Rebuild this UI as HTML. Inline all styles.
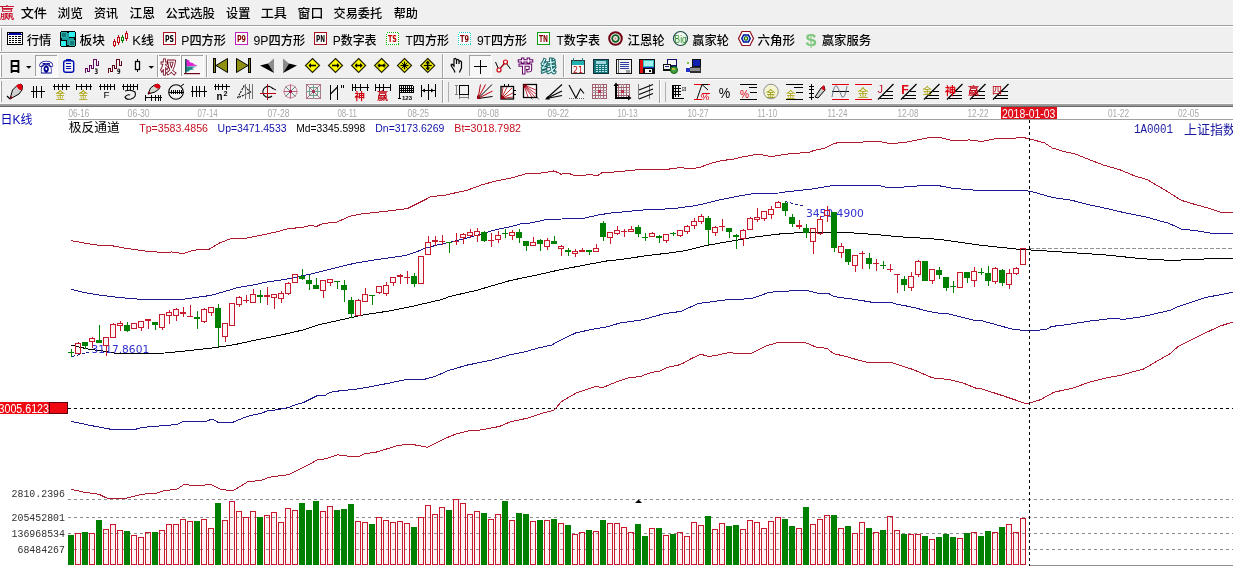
<!DOCTYPE html>
<html><head><meta charset="utf-8"><title>chart</title><style>
html,body{margin:0;padding:0;background:#fff;}
body{width:1233px;height:566px;overflow:hidden;}
svg{display:block;}
</style></head><body>
<svg width="1233" height="566" viewBox="0 0 1233 566">
<rect x="0" y="0" width="1233" height="566" fill="#ffffff"/>
<rect x="0" y="0" width="1233" height="25" fill="#f0f0f0"/>
<rect x="0" y="25" width="1233" height="1" fill="#a0a0a0"/>
<rect x="0" y="26" width="1233" height="1" fill="#ffffff"/>
<rect x="0" y="27" width="1233" height="25" fill="#f0f0f0"/>
<rect x="0" y="52" width="1233" height="1" fill="#a0a0a0"/>
<rect x="0" y="53" width="1233" height="1" fill="#ffffff"/>
<rect x="0" y="54" width="1233" height="24" fill="#f0f0f0"/>
<rect x="0" y="78" width="1233" height="1" fill="#a0a0a0"/>
<rect x="0" y="79" width="1233" height="1" fill="#ffffff"/>
<rect x="0" y="80" width="1233" height="23" fill="#f0f0f0"/>
<rect x="0" y="103" width="1233" height="1" fill="#f8f8f8"/>
<rect x="0" y="104" width="1233" height="1" fill="#a0a0a0"/>
<rect x="0" y="105" width="1233" height="1" fill="#9a9a9a"/>
<rect x="0" y="106" width="1233" height="1" fill="#6a6a6a"/>
<rect x="1" y="28" width="1" height="23" fill="#a0a0a0"/>
<rect x="0" y="28" width="1" height="23" fill="#ffffff"/>
<rect x="1" y="55" width="1" height="22" fill="#a0a0a0"/>
<rect x="0" y="55" width="1" height="22" fill="#ffffff"/>
<rect x="1" y="81" width="1" height="21" fill="#a0a0a0"/>
<rect x="0" y="81" width="1" height="21" fill="#ffffff"/>
<text x="-0.5" y="18.3" font-size="14.5" fill="#c8102e" font-family='"Liberation Sans","Noto Sans CJK SC",sans-serif' textLength="15" lengthAdjust="spacingAndGlyphs" font-weight="500">赢</text>
<text x="20.7" y="17.8" font-size="12.5" fill="#000" font-family='"Liberation Sans","Noto Sans CJK SC",sans-serif' textLength="26.3" lengthAdjust="spacingAndGlyphs" font-weight="500">文件</text>
<text x="57.5" y="17.8" font-size="12.5" fill="#000" font-family='"Liberation Sans","Noto Sans CJK SC",sans-serif' textLength="25.5" lengthAdjust="spacingAndGlyphs" font-weight="500">浏览</text>
<text x="93.9" y="17.8" font-size="12.5" fill="#000" font-family='"Liberation Sans","Noto Sans CJK SC",sans-serif' textLength="24.1" lengthAdjust="spacingAndGlyphs" font-weight="500">资讯</text>
<text x="129.5" y="17.8" font-size="12.5" fill="#000" font-family='"Liberation Sans","Noto Sans CJK SC",sans-serif' textLength="25.5" lengthAdjust="spacingAndGlyphs" font-weight="500">江恩</text>
<text x="165.5" y="17.8" font-size="12.5" fill="#000" font-family='"Liberation Sans","Noto Sans CJK SC",sans-serif' textLength="49.5" lengthAdjust="spacingAndGlyphs" font-weight="500">公式选股</text>
<text x="226.1" y="17.8" font-size="12.5" fill="#000" font-family='"Liberation Sans","Noto Sans CJK SC",sans-serif' textLength="24.3" lengthAdjust="spacingAndGlyphs" font-weight="500">设置</text>
<text x="260.7" y="17.8" font-size="12.5" fill="#000" font-family='"Liberation Sans","Noto Sans CJK SC",sans-serif' textLength="26.3" lengthAdjust="spacingAndGlyphs" font-weight="500">工具</text>
<text x="297.5" y="17.8" font-size="12.5" fill="#000" font-family='"Liberation Sans","Noto Sans CJK SC",sans-serif' textLength="25.9" lengthAdjust="spacingAndGlyphs" font-weight="500">窗口</text>
<text x="333.5" y="17.8" font-size="12.5" fill="#000" font-family='"Liberation Sans","Noto Sans CJK SC",sans-serif' textLength="48.7" lengthAdjust="spacingAndGlyphs" font-weight="500">交易委托</text>
<text x="393.7" y="17.8" font-size="12.5" fill="#000" font-family='"Liberation Sans","Noto Sans CJK SC",sans-serif' textLength="24.3" lengthAdjust="spacingAndGlyphs" font-weight="500">帮助</text>
<text x="26.7" y="45" font-size="12.5" fill="#000" font-family='"Liberation Sans","Noto Sans CJK SC",sans-serif' textLength="24.7" lengthAdjust="spacingAndGlyphs" font-weight="500">行情</text>
<text x="79.5" y="45" font-size="12.5" fill="#000" font-family='"Liberation Sans","Noto Sans CJK SC",sans-serif' textLength="25.5" lengthAdjust="spacingAndGlyphs" font-weight="500">板块</text>
<text x="132.3" y="45" font-size="12.5" fill="#000" font-family='"Liberation Sans","Noto Sans CJK SC",sans-serif' textLength="21.7" lengthAdjust="spacingAndGlyphs" font-weight="500">K线</text>
<text x="181.3" y="45" font-size="12.5" fill="#000" font-family='"Liberation Sans","Noto Sans CJK SC",sans-serif' textLength="44.7" lengthAdjust="spacingAndGlyphs" font-weight="500">P四方形</text>
<text x="253.5" y="45" font-size="12.5" fill="#000" font-family='"Liberation Sans","Noto Sans CJK SC",sans-serif' textLength="51.7" lengthAdjust="spacingAndGlyphs" font-weight="500">9P四方形</text>
<text x="332.7" y="45" font-size="12.5" fill="#000" font-family='"Liberation Sans","Noto Sans CJK SC",sans-serif' textLength="43.9" lengthAdjust="spacingAndGlyphs" font-weight="500">P数字表</text>
<text x="405.5" y="45" font-size="12.5" fill="#000" font-family='"Liberation Sans","Noto Sans CJK SC",sans-serif' textLength="43.5" lengthAdjust="spacingAndGlyphs" font-weight="500">T四方形</text>
<text x="476.9" y="45" font-size="12.5" fill="#000" font-family='"Liberation Sans","Noto Sans CJK SC",sans-serif' textLength="50.1" lengthAdjust="spacingAndGlyphs" font-weight="500">9T四方形</text>
<text x="556.5" y="45" font-size="12.5" fill="#000" font-family='"Liberation Sans","Noto Sans CJK SC",sans-serif' textLength="43.5" lengthAdjust="spacingAndGlyphs" font-weight="500">T数字表</text>
<text x="627.5" y="45" font-size="12.5" fill="#000" font-family='"Liberation Sans","Noto Sans CJK SC",sans-serif' textLength="37.3" lengthAdjust="spacingAndGlyphs" font-weight="500">江恩轮</text>
<text x="692.3" y="45" font-size="12.5" fill="#000" font-family='"Liberation Sans","Noto Sans CJK SC",sans-serif' textLength="36.7" lengthAdjust="spacingAndGlyphs" font-weight="500">赢家轮</text>
<text x="757.5" y="45" font-size="12.5" fill="#000" font-family='"Liberation Sans","Noto Sans CJK SC",sans-serif' textLength="37.7" lengthAdjust="spacingAndGlyphs" font-weight="500">六角形</text>
<text x="821.7" y="45" font-size="12.5" fill="#000" font-family='"Liberation Sans","Noto Sans CJK SC",sans-serif' textLength="49.5" lengthAdjust="spacingAndGlyphs" font-weight="500">赢家服务</text>
<rect x="35" y="55" width="23" height="22" fill="#f7f7f7"/>
<rect x="35" y="55" width="23" height="1" fill="#a0a0a0"/>
<rect x="35" y="55" width="1" height="22" fill="#a0a0a0"/>
<rect x="35" y="76" width="23" height="1" fill="#ffffff"/>
<rect x="57" y="55" width="1" height="22" fill="#ffffff"/>
<rect x="158" y="55" width="23" height="22" fill="#f7f7f7"/>
<rect x="158" y="55" width="23" height="1" fill="#a0a0a0"/>
<rect x="158" y="55" width="1" height="22" fill="#a0a0a0"/>
<rect x="158" y="76" width="23" height="1" fill="#ffffff"/>
<rect x="180" y="55" width="1" height="22" fill="#ffffff"/>
<rect x="181" y="55" width="23" height="22" fill="#f7f7f7"/>
<rect x="181" y="55" width="23" height="1" fill="#a0a0a0"/>
<rect x="181" y="55" width="1" height="22" fill="#a0a0a0"/>
<rect x="181" y="76" width="23" height="1" fill="#ffffff"/>
<rect x="203" y="55" width="1" height="22" fill="#ffffff"/>
<rect x="469" y="55" width="23" height="22" fill="#f7f7f7"/>
<rect x="469" y="55" width="23" height="1" fill="#a0a0a0"/>
<rect x="469" y="55" width="1" height="22" fill="#a0a0a0"/>
<rect x="469" y="76" width="23" height="1" fill="#ffffff"/>
<rect x="491" y="55" width="1" height="22" fill="#ffffff"/>
<rect x="157" y="55" width="1" height="22" fill="#a0a0a0"/>
<rect x="158" y="55" width="1" height="22" fill="#ffffff"/>
<rect x="206" y="55" width="1" height="22" fill="#a0a0a0"/>
<rect x="207" y="55" width="1" height="22" fill="#ffffff"/>
<rect x="563" y="55" width="1" height="22" fill="#a0a0a0"/>
<rect x="564" y="55" width="1" height="22" fill="#ffffff"/>
<rect x="442" y="54" width="1" height="24" fill="#a0a0a0"/>
<rect x="443" y="54" width="1" height="24" fill="#ffffff"/>
<rect x="442" y="80" width="1" height="23" fill="#a0a0a0"/>
<rect x="443" y="80" width="1" height="23" fill="#ffffff"/>
<rect x="659" y="80" width="1" height="23" fill="#a0a0a0"/>
<rect x="660" y="80" width="1" height="23" fill="#ffffff"/>
<rect x="448" y="82" width="1" height="20" fill="#b0b0b0"/>
<rect x="665" y="82" width="1" height="20" fill="#b0b0b0"/>
<g shape-rendering="crispEdges">
<rect x="7" y="32" width="16" height="13" fill="#000"/>
<rect x="8" y="33" width="14" height="11" fill="#fff"/>
<rect x="8" y="33" width="14" height="2" fill="#0000a8"/>
<rect x="8" y="33" width="1" height="1" fill="#fff"/>
<rect x="21" y="33" width="1" height="1" fill="#fff"/>
<rect x="9" y="36" width="2" height="1" fill="#000"/>
<rect x="12" y="36" width="2" height="1" fill="#000"/>
<rect x="15" y="36" width="2" height="1" fill="#000"/>
<rect x="18" y="36" width="3" height="1" fill="#000"/>
<rect x="9" y="38" width="2" height="1" fill="#000"/>
<rect x="12" y="38" width="2" height="1" fill="#000"/>
<rect x="15" y="38" width="2" height="1" fill="#000"/>
<rect x="18" y="38" width="3" height="1" fill="#000"/>
<rect x="9" y="40" width="2" height="1" fill="#000"/>
<rect x="12" y="40" width="2" height="1" fill="#000"/>
<rect x="15" y="40" width="2" height="1" fill="#000"/>
<rect x="18" y="40" width="3" height="1" fill="#000"/>
<rect x="9" y="42" width="2" height="1" fill="#000"/>
<rect x="12" y="42" width="2" height="1" fill="#000"/>
<rect x="15" y="42" width="2" height="1" fill="#000"/>
<rect x="18" y="42" width="3" height="1" fill="#000"/>
<rect x="60" y="31" width="16" height="16" fill="#000"/>
<rect x="61" y="32" width="6" height="6" fill="#30b0b0"/>
<rect x="62" y="33" width="4" height="4" fill="#137a76"/>
<rect x="69" y="32" width="6" height="5" fill="#30f0f0"/>
<rect x="61" y="41" width="5" height="5" fill="#30f0f0"/>
<rect x="69" y="40" width="6" height="6" fill="#30b0b0"/>
<rect x="70" y="41" width="4" height="4" fill="#137a76"/>
<rect x="67" y="33" width="2" height="12" fill="#1c9c9c"/>
<rect x="62" y="38" width="12" height="2" fill="#1c9c9c"/>
<rect x="60" y="31" width="1" height="1" fill="#f0f0f0"/>
<rect x="75" y="31" width="1" height="1" fill="#f0f0f0"/>
<rect x="60" y="46" width="1" height="1" fill="#f0f0f0"/>
<rect x="75" y="46" width="1" height="1" fill="#f0f0f0"/>
<rect x="114" y="39" width="1" height="2" fill="#c00010"/>
<rect x="114" y="46" width="1" height="1" fill="#c00010"/>
<rect x="113.5" y="41.5" width="2" height="4" fill="none" stroke="#c00010" stroke-width="1"/>
<rect x="118" y="35" width="1" height="2" fill="#c00010"/>
<rect x="118" y="43" width="1" height="2" fill="#c00010"/>
<rect x="117.5" y="37.5" width="2" height="5" fill="none" stroke="#c00010" stroke-width="1"/>
<rect x="122" y="35" width="1" height="2" fill="#008000"/>
<rect x="122" y="41" width="1" height="2" fill="#008000"/>
<rect x="121.5" y="37.5" width="2" height="3" fill="none" stroke="#008000" stroke-width="1"/>
<rect x="126" y="31" width="1" height="2" fill="#c00010"/>
<rect x="126" y="39" width="1" height="2" fill="#c00010"/>
<rect x="125.5" y="33.5" width="2" height="5" fill="none" stroke="#c00010" stroke-width="1"/>
<rect x="163" y="32" width="13" height="13" fill="#fff"/>
<rect x="163.5" y="32.5" width="12" height="12" fill="none" stroke="#a81020" stroke-width="1"/>
<text x="165" y="42" font-size="8.6" fill="#000" font-weight="bold" font-family='"DejaVu Sans",sans-serif' textLength="9" lengthAdjust="spacingAndGlyphs">PS</text>
<rect x="235" y="32" width="13" height="13" fill="#fff"/>
<rect x="235.5" y="32.5" width="12" height="12" fill="none" stroke="#c020c0" stroke-width="1"/>
<text x="237" y="42" font-size="8.6" fill="#800000" font-weight="bold" font-family='"DejaVu Sans",sans-serif' textLength="9" lengthAdjust="spacingAndGlyphs">P9</text>
<rect x="314" y="32" width="13" height="13" fill="#fff"/>
<rect x="314.5" y="32.5" width="12" height="12" fill="none" stroke="#a81020" stroke-width="1"/>
<text x="316" y="42" font-size="8.6" fill="#000" font-weight="bold" font-family='"DejaVu Sans",sans-serif' textLength="9" lengthAdjust="spacingAndGlyphs">PN</text>
<rect x="386" y="32" width="13" height="13" fill="#fff"/>
<rect x="386.5" y="32.5" width="12" height="12" fill="none" stroke="#10b010" stroke-width="1" stroke-dasharray="1,1"/>
<text x="388" y="42" font-size="8.6" fill="#c00000" font-weight="bold" font-family='"DejaVu Sans",sans-serif' textLength="9" lengthAdjust="spacingAndGlyphs">TS</text>
<rect x="458" y="32" width="13" height="13" fill="#fff"/>
<rect x="458.5" y="32.5" width="12" height="12" fill="none" stroke="#20d0d0" stroke-width="1" stroke-dasharray="1,1"/>
<text x="460" y="42" font-size="8.6" fill="#800000" font-weight="bold" font-family='"DejaVu Sans",sans-serif' textLength="9" lengthAdjust="spacingAndGlyphs">T9</text>
<rect x="537" y="32" width="13" height="13" fill="#fff"/>
<rect x="537.5" y="32.5" width="12" height="12" fill="none" stroke="#10a010" stroke-width="1"/>
<text x="539" y="42" font-size="8.6" fill="#800000" font-weight="bold" font-family='"DejaVu Sans",sans-serif' textLength="9" lengthAdjust="spacingAndGlyphs">TN</text>
</g>
<circle cx="615.5" cy="38.5" r="6.3" fill="none" stroke="#700010" stroke-width="2"/>
<circle cx="615.5" cy="38.5" r="3.3" fill="none" stroke="#106020" stroke-width="1.8"/>
<circle cx="615.5" cy="38.5" r="1" fill="#c08080" stroke="#c08080" stroke-width="0"/>
<circle cx="680.5" cy="38.5" r="7" fill="#f0f8f0" stroke="#204848" stroke-width="1.2"/>
<text x="674.6" y="43.3" font-size="11" fill="#309030" font-family='"Liberation Sans",sans-serif' textLength="12" lengthAdjust="spacingAndGlyphs">Big</text>
<polygon points="738.5,38.5 742,31.5 750,31.5 753.5,38.5 750,45.5 742,45.5" fill="#fff" stroke="#901020" stroke-width="1.2"/>
<polygon points="741.8,38.5 743.6,35 748.4,35 750.2,38.5 748.4,42 743.6,42" fill="#c0f0ff" stroke="#0010a0" stroke-width="1.5"/>
<circle cx="746" cy="38.5" r="1.7" fill="#f0f070" stroke="#106020" stroke-width="1.1"/>
<text x="805.5" y="45.5" font-size="17" fill="#80c880" font-weight="bold" font-family='"Liberation Sans",sans-serif' textLength="11" lengthAdjust="spacingAndGlyphs">$</text>
<g shape-rendering="crispEdges">
</g>
<text x="9" y="71.3" font-size="13.5" fill="#000" font-weight="900" font-family='"Noto Sans CJK SC",sans-serif' textLength="12" lengthAdjust="spacingAndGlyphs">日</text>
<polygon points="26,66 31.5,66 28.75,68.8" fill="#000" stroke="none" stroke-width="1"/>
<polygon points="148.5,66 154,66 151.25,68.8" fill="#000" stroke="none" stroke-width="1"/>
<text x="38.8" y="73" font-size="16" fill="#ffffff" stroke="#000090" stroke-width="0.9" font-family='"DejaVu Sans",sans-serif' textLength="15" lengthAdjust="spacingAndGlyphs">&#9742;</text>
<rect x="63.7" y="60.7" width="10" height="11.6" rx="2" fill="none" stroke="#0010b0" stroke-width="1.4"/>
<rect x="66" y="59" width="5" height="2" fill="#0010b0"/>
<rect x="66" y="63" width="5" height="1" fill="#0010b0"/>
<rect x="66" y="66" width="5" height="1" fill="#0010b0"/>
<rect x="66" y="68" width="5" height="1" fill="#0010b0"/>
<g shape-rendering="crispEdges">
<rect x="85" y="68" width="1" height="5" fill="#600860"/>
<rect x="85" y="68" width="3" height="1" fill="#600860"/>
<rect x="87" y="68" width="1" height="4" fill="#600860"/>
<rect x="87" y="71" width="3" height="1" fill="#600860"/>
<rect x="89" y="65" width="1" height="7" fill="#600860"/>
<rect x="89" y="65" width="3" height="1" fill="#600860"/>
<rect x="91" y="65" width="1" height="4" fill="#600860"/>
<rect x="91" y="68" width="3" height="1" fill="#600860"/>
<rect x="93" y="59" width="1" height="10" fill="#600860"/>
<rect x="93" y="59" width="4" height="1" fill="#600860"/>
<rect x="96" y="59" width="1" height="7" fill="#600860"/>
<rect x="96" y="65" width="3" height="1" fill="#600860"/>
<rect x="98" y="61" width="1" height="5" fill="#600860"/>
</g>
<text x="94.4" y="73.8" font-size="7.5" fill="#000" font-weight="bold" font-family='"DejaVu Sans",sans-serif' textLength="3.6" lengthAdjust="spacingAndGlyphs">3</text>
<g shape-rendering="crispEdges">
<rect x="107.5" y="68" width="1" height="5" fill="#600818"/>
<rect x="107.5" y="68" width="3" height="1" fill="#600818"/>
<rect x="109.5" y="68" width="1" height="4" fill="#600818"/>
<rect x="109.5" y="71" width="3" height="1" fill="#600818"/>
<rect x="111.5" y="65" width="1" height="7" fill="#600818"/>
<rect x="111.5" y="65" width="3" height="1" fill="#600818"/>
<rect x="113.5" y="65" width="1" height="4" fill="#600818"/>
<rect x="113.5" y="68" width="3" height="1" fill="#600818"/>
<rect x="115.5" y="59" width="1" height="10" fill="#600818"/>
<rect x="115.5" y="59" width="4" height="1" fill="#600818"/>
<rect x="118.5" y="59" width="1" height="7" fill="#600818"/>
<rect x="118.5" y="65" width="3" height="1" fill="#600818"/>
<rect x="120.5" y="61" width="1" height="5" fill="#600818"/>
</g>
<text x="116.9" y="73.8" font-size="7.5" fill="#000" font-weight="bold" font-family='"DejaVu Sans",sans-serif' textLength="3.6" lengthAdjust="spacingAndGlyphs">9</text>
<rect x="137" y="59" width="1" height="13" fill="#000"/>
<rect x="135.5" y="61.5" width="4" height="8" fill="#fff" stroke="#000" stroke-width="1.3"/>
<text x="160.5" y="72.5" font-size="15.5" fill="#ffffff" stroke="#700018" stroke-width="0.8" font-weight="900" font-family='"Noto Sans CJK SC",sans-serif' textLength="16" lengthAdjust="spacingAndGlyphs">权</text>
<polygon points="186,59 190,61 189,62 194,63.5 193,64 198,65.5 186,66.5" fill="#e020d0" stroke="none" stroke-width="1"/>
<polygon points="186,66.5 197,66.5 192,68 194,69.5 189,70 190,71 186,72" fill="#208888" stroke="none" stroke-width="1"/>
<rect x="185" y="59" width="1.5" height="15" fill="#205050"/>
<rect x="184" y="73" width="16" height="1.2" fill="#700018"/>
<rect x="213" y="58" width="3" height="15" fill="#000"/>
<rect x="214" y="59" width="1" height="13" fill="#808020"/>
<polygon points="216,65.5 227.5,58.5 227.5,72.5" fill="#909010" stroke="#000" stroke-width="1"/>
<rect x="248" y="58" width="3" height="15" fill="#000"/>
<rect x="249" y="59" width="1" height="13" fill="#808020"/>
<polygon points="248,65.5 236.5,58.5 236.5,72.5" fill="#909010" stroke="#000" stroke-width="1"/>
<polygon points="260,65.5 274,58.5 268,63.5" fill="#f4f4f4" stroke="none" stroke-width="1"/>
<polygon points="274,58.5 274,73 268,63.5" fill="#8c8c8c" stroke="none" stroke-width="1"/>
<polygon points="260,65.5 268,63.5 274,73" fill="#000" stroke="none" stroke-width="1"/>
<polygon points="297,65.5 283,58.5 289,63.5" fill="#f4f4f4" stroke="none" stroke-width="1"/>
<polygon points="283,58.5 283,73 289,63.5" fill="#8c8c8c" stroke="none" stroke-width="1"/>
<polygon points="297,65.5 289,63.5 283,73" fill="#000" stroke="none" stroke-width="1"/>
<polygon points="312.5,58.5 319.5,65.5 312.5,72.5 305.5,65.5" fill="#ffff00" stroke="#202000" stroke-width="1.2"/>
<polyline points="316.0,65.5 309.0,65.5" fill="none" stroke="#000" stroke-width="1.6"/>
<polygon points="308.5,65.5 311.0,63.0 311.0,68.0" fill="#000" stroke="none" stroke-width="1"/>
<polygon points="335.5,58.5 342.5,65.5 335.5,72.5 328.5,65.5" fill="#ffff00" stroke="#202000" stroke-width="1.2"/>
<polyline points="332.0,65.5 339.0,65.5" fill="none" stroke="#000" stroke-width="1.6"/>
<polygon points="339.5,65.5 337.0,63.0 337.0,68.0" fill="#000" stroke="none" stroke-width="1"/>
<polygon points="358.6,58.5 365.6,65.5 358.6,72.5 351.6,65.5" fill="#ffff00" stroke="#202000" stroke-width="1.2"/>
<polyline points="355.1,65.5 362.1,65.5" fill="none" stroke="#000" stroke-width="1.6"/>
<polygon points="362.6,65.5 360.1,63.0 360.1,68.0" fill="#000" stroke="none" stroke-width="1"/>
<polygon points="354.6,65.5 357.1,63.0 357.1,68.0" fill="#000" stroke="none" stroke-width="1"/>
<polygon points="381.6,58.5 388.6,65.5 381.6,72.5 374.6,65.5" fill="#ffff00" stroke="#202000" stroke-width="1.2"/>
<polyline points="377.6,65.5 385.6,65.5" fill="none" stroke="#000" stroke-width="1.6"/>
<polygon points="381.1,65.5 378.6,63.0 378.6,68.0" fill="#000" stroke="none" stroke-width="1"/>
<polygon points="382.1,65.5 384.6,63.0 384.6,68.0" fill="#000" stroke="none" stroke-width="1"/>
<polygon points="404.5,58.5 411.5,65.5 404.5,72.5 397.5,65.5" fill="#ffff00" stroke="#202000" stroke-width="1.2"/>
<polyline points="400.5,65.5 408.5,65.5" fill="none" stroke="#000" stroke-width="1.4"/>
<polyline points="404.5,61.5 404.5,69.5" fill="none" stroke="#000" stroke-width="1.4"/>
<polyline points="401.5,62.5 407.5,68.5" fill="none" stroke="#000" stroke-width="1"/>
<polyline points="401.5,68.5 407.5,62.5" fill="none" stroke="#000" stroke-width="1"/>
<polygon points="427.7,58.5 434.7,65.5 427.7,72.5 420.7,65.5" fill="#ffff00" stroke="#202000" stroke-width="1.2"/>
<polyline points="423.7,65.5 431.7,65.5" fill="none" stroke="#000" stroke-width="1.4"/>
<polyline points="427.7,61.5 427.7,69.5" fill="none" stroke="#000" stroke-width="1.4"/>
<polygon points="425.2,63.5 430.2,63.5 427.7,60.5" fill="#000" stroke="none" stroke-width="1"/>
<polygon points="425.2,67.5 430.2,67.5 427.7,70.5" fill="#000" stroke="none" stroke-width="1"/>
<polyline points="452,67 451,65 452,64 454,66 454,59 455.5,58.5 456.5,59.5 456.5,64 456.5,60 458,59.5 459,60.5 459,64 459,61.5 460.5,61 461.5,62 461.5,68 460,71 459.5,72.5" fill="none" stroke="#000" stroke-width="1.2"/>
<polyline points="452,67 454,70 455,72.5" fill="none" stroke="#000" stroke-width="1.2"/>
<g shape-rendering="crispEdges">
<rect x="474" y="66" width="13" height="1" fill="#000"/>
<rect x="480" y="60" width="1" height="14" fill="#000"/>
</g>
<polyline points="495.5,62 499,70" fill="none" stroke="#000" stroke-width="1"/>
<polyline points="499,70 505.5,62" fill="none" stroke="#900010" stroke-width="1.2"/>
<polyline points="505.5,62 510.5,69" fill="none" stroke="#000" stroke-width="1"/>
<circle cx="499" cy="70" r="2" fill="#fff" stroke="#d00010" stroke-width="1.2"/>
<circle cx="505.5" cy="62" r="2" fill="#fff" stroke="#d00010" stroke-width="1.2"/>
<text x="517.5" y="71.5" font-size="16" fill="#fff4ff" stroke="#600060" stroke-width="1" font-weight="900" font-family='"Noto Sans CJK SC",sans-serif' textLength="16" lengthAdjust="spacingAndGlyphs">节</text>
<text x="540.5" y="71.5" font-size="16" fill="#d8ffff" stroke="#206868" stroke-width="1" font-weight="900" font-family='"Noto Sans CJK SC",sans-serif' textLength="16" lengthAdjust="spacingAndGlyphs">线</text>
<rect x="571" y="60" width="14" height="14" fill="#303030"/>
<rect x="572" y="61" width="12" height="4" fill="#20b0b0"/>
<rect x="572" y="65" width="12" height="8" fill="#f8f8f8"/>
<rect x="573" y="58" width="1" height="3" fill="#208080"/>
<rect x="582" y="58" width="1" height="3" fill="#208080"/>
<text x="573" y="72.5" font-size="8" fill="#c01010" font-weight="normal" font-family='"DejaVu Sans",sans-serif' textLength="10" lengthAdjust="spacingAndGlyphs">21</text>
<rect x="593" y="59" width="16" height="15" fill="#103040"/>
<rect x="594" y="60" width="14" height="13" fill="#187878"/>
<rect x="596" y="61" width="10" height="3" fill="#a0d8e0"/>
<rect x="596" y="65" width="2" height="1" fill="#c0e8f0"/>
<rect x="599" y="65" width="2" height="1" fill="#c0e8f0"/>
<rect x="602" y="65" width="2" height="1" fill="#c0e8f0"/>
<rect x="605" y="65" width="2" height="1" fill="#c0e8f0"/>
<rect x="596" y="67" width="2" height="1" fill="#c0e8f0"/>
<rect x="599" y="67" width="2" height="1" fill="#c0e8f0"/>
<rect x="602" y="67" width="2" height="1" fill="#c0e8f0"/>
<rect x="605" y="67" width="2" height="1" fill="#c0e8f0"/>
<rect x="596" y="69" width="2" height="1" fill="#c0e8f0"/>
<rect x="599" y="69" width="2" height="1" fill="#c0e8f0"/>
<rect x="602" y="69" width="2" height="1" fill="#c0e8f0"/>
<rect x="605" y="69" width="2" height="1" fill="#c0e8f0"/>
<rect x="596" y="71" width="2" height="1" fill="#c0e8f0"/>
<rect x="599" y="71" width="2" height="1" fill="#c0e8f0"/>
<rect x="602" y="71" width="2" height="1" fill="#c0e8f0"/>
<rect x="605" y="71" width="2" height="1" fill="#c0e8f0"/>
<rect x="616" y="59" width="16" height="15" fill="#101010"/>
<rect x="617" y="60" width="14" height="13" fill="#f4f4f4"/>
<rect x="618" y="60" width="1" height="13" fill="#606060"/>
<rect x="620" y="62" width="9" height="1" fill="#3040a0"/>
<rect x="620" y="64" width="9" height="1" fill="#3040a0"/>
<rect x="620" y="66" width="9" height="1" fill="#3040a0"/>
<rect x="620" y="68" width="9" height="1" fill="#3040a0"/>
<rect x="626" y="70" width="4" height="3" fill="#a0a0a0"/>
<rect x="639" y="59" width="16" height="15" fill="#101010"/>
<rect x="640" y="60" width="3" height="13" fill="#e01010"/>
<rect x="643" y="60" width="11" height="7" fill="#30c0c0"/>
<rect x="644" y="61" width="9" height="5" fill="#a8f0f0"/>
<rect x="643" y="67" width="11" height="1" fill="#2030c0"/>
<rect x="645" y="69" width="7" height="4" fill="#f8f8f8"/>
<rect x="649" y="70" width="2" height="2" fill="#101010"/>
<rect x="667" y="59" width="10" height="8" fill="#101060"/>
<rect x="668" y="60" width="8" height="5" fill="#f8f8f8"/>
<rect x="663" y="64" width="8" height="7" fill="#101010"/>
<rect x="664" y="65" width="6" height="4" fill="#f0f0f0"/>
<rect x="665" y="66" width="4" height="1" fill="#202080"/>
<circle cx="674" cy="70" r="3.5" fill="#40a040" stroke="#106010" stroke-width="1"/>
<rect x="672" y="68" width="3" height="2" fill="#c0c040"/>
<rect x="692" y="59" width="9" height="8" fill="#101010"/>
<rect x="693" y="60" width="7" height="6" fill="#1020b0"/>
<rect x="689" y="67" width="12" height="6" fill="#303030"/>
<rect x="690" y="68" width="10" height="3" fill="#909090"/>
<rect x="686" y="64" width="4" height="9" fill="#f8f8f8"/>
<rect x="686" y="68" width="4" height="4" fill="#2030c0"/>
<rect x="687" y="62" width="2" height="2" fill="#80c040"/>
<polygon points="10,99 12.5,90 17,85.5 21,84 22.5,86 22,90 19,94" fill="#d0d0d0" stroke="#000" stroke-width="1"/>
<polygon points="16,86 18.5,84 21.5,84 22.5,87 22,90 19.5,90" fill="#e00010" stroke="none" stroke-width="1"/>
<polyline points="7,96 10,99" fill="none" stroke="#000" stroke-width="1.2"/>
<polygon points="10,99.5 11,96 13,97.5" fill="#a00010" stroke="none" stroke-width="1"/>
<g shape-rendering="crispEdges">
<rect x="33" y="86" width="1" height="12" fill="#000"/>
<rect x="36" y="86" width="1" height="12" fill="#000"/>
<rect x="41" y="86" width="1" height="12" fill="#000"/>
<rect x="31" y="91" width="14" height="1" fill="#000"/>
</g>
<g shape-rendering="crispEdges">
<rect x="53" y="86" width="17" height="1" fill="#000"/>
<rect x="54" y="84" width="1" height="6" fill="#000"/>
<rect x="58" y="84" width="1" height="6" fill="#000"/>
<rect x="62" y="84" width="1" height="6" fill="#000"/>
<rect x="66" y="84" width="1" height="6" fill="#000"/>
</g>
<text x="55.5" y="98.5" font-size="10" fill="#a8a000" font-weight="normal" font-family='"Noto Sans CJK SC",sans-serif' textLength="9.5" lengthAdjust="spacingAndGlyphs">金</text>
<g shape-rendering="crispEdges">
<rect x="76" y="86" width="16" height="1" fill="#000"/>
<rect x="76" y="84" width="1" height="6" fill="#000"/>
<rect x="81" y="84" width="1" height="6" fill="#000"/>
<rect x="86" y="84" width="1" height="6" fill="#000"/>
<rect x="90" y="84" width="1" height="6" fill="#000"/>
</g>
<text x="78.6" y="98.5" font-size="10" fill="#a8a000" font-weight="normal" font-family='"Noto Sans CJK SC",sans-serif' textLength="9.5" lengthAdjust="spacingAndGlyphs">金</text>
<g shape-rendering="crispEdges">
<rect x="99" y="86" width="16" height="1" fill="#000"/>
<rect x="100" y="84" width="1" height="6" fill="#000"/>
<rect x="104" y="84" width="1" height="6" fill="#000"/>
<rect x="107" y="84" width="1" height="6" fill="#000"/>
<rect x="110" y="84" width="1" height="6" fill="#000"/>
<rect x="114" y="84" width="1" height="6" fill="#000"/>
</g>
<text x="103.5" y="98" font-size="9.5" fill="#000" font-weight="normal" font-family='"Liberation Sans","Noto Sans CJK SC",sans-serif' textLength="6" lengthAdjust="spacingAndGlyphs">F</text>
<g shape-rendering="crispEdges">
<rect x="122" y="86" width="16" height="1" fill="#000"/>
<rect x="123" y="84" width="1" height="6" fill="#000"/>
<rect x="127" y="84" width="1" height="6" fill="#000"/>
<rect x="130" y="84" width="1" height="6" fill="#000"/>
<rect x="133" y="84" width="1" height="6" fill="#000"/>
<rect x="137" y="84" width="1" height="6" fill="#000"/>
</g>
<path d="M125,91 Q131,89 135,92 Q137,97 131,99 Q126,100 125,97 Q127,94 130,95" fill="none" stroke="#000" stroke-width="1.1"/>
<polygon points="148,94 150.5,88 154.5,85 158,84 160,86 159.5,88.5 155,92" fill="#d0d8d0" stroke="#000" stroke-width="1"/>
<polygon points="153.5,86 156,84 159,84 160.5,86.5 159.5,88.5 157,88.5" fill="#e00010" stroke="none" stroke-width="1"/>
<polygon points="148,94.5 149,91.5 151,93" fill="#a00010" stroke="none" stroke-width="1"/>
<g shape-rendering="crispEdges">
<rect x="145" y="97" width="17" height="1" fill="#000"/>
<rect x="145" y="95" width="1" height="6" fill="#000"/>
<rect x="151" y="95" width="1" height="6" fill="#000"/>
<rect x="155" y="95" width="1" height="6" fill="#000"/>
<rect x="158" y="95" width="1" height="6" fill="#000"/>
<rect x="160" y="95" width="1" height="6" fill="#000"/>
</g>
<circle cx="176" cy="92" r="7.3" fill="none" stroke="#000" stroke-width="1.1"/>
<g shape-rendering="crispEdges">
<rect x="169" y="92" width="15" height="1" fill="#000"/>
<rect x="171" y="90" width="1" height="4" fill="#000"/>
<rect x="173" y="90" width="1" height="4" fill="#000"/>
<rect x="175" y="90" width="1" height="4" fill="#000"/>
<rect x="177" y="90" width="1" height="4" fill="#000"/>
<rect x="179" y="90" width="1" height="4" fill="#000"/>
<rect x="181" y="90" width="1" height="4" fill="#000"/>
</g>
<polyline points="181,86 184,84" fill="none" stroke="#000" stroke-width="1"/>
<g shape-rendering="crispEdges">
<rect x="192" y="86" width="1" height="11" fill="#000"/>
<rect x="196" y="86" width="1" height="11" fill="#000"/>
<rect x="199" y="86" width="1" height="11" fill="#000"/>
<rect x="204" y="86" width="1" height="11" fill="#000"/>
<rect x="191" y="91" width="16" height="1" fill="#000"/>
</g>
<g shape-rendering="crispEdges">
<rect x="214" y="86" width="16" height="1" fill="#000"/>
<rect x="215" y="84" width="1" height="6" fill="#000"/>
<rect x="218" y="84" width="1" height="6" fill="#000"/>
<rect x="222" y="84" width="1" height="6" fill="#000"/>
<rect x="226" y="84" width="1" height="6" fill="#000"/>
</g>
<text x="216.5" y="99.5" font-size="10" fill="#000" font-weight="bold" font-family='"Liberation Sans","Noto Sans CJK SC",sans-serif' textLength="6" lengthAdjust="spacingAndGlyphs">n</text>
<text x="223.5" y="95.5" font-size="7" fill="#000" font-weight="bold" font-family='"Liberation Sans","Noto Sans CJK SC",sans-serif' textLength="4" lengthAdjust="spacingAndGlyphs">2</text>
<polyline points="237.5,98 244,86 250.5,92 237.5,98" fill="none" stroke="#000" stroke-width="1.1" stroke-dasharray="2,1"/>
<g shape-rendering="crispEdges">
<rect x="245" y="84" width="1" height="15" fill="#707070"/>
<rect x="249" y="84" width="1" height="15" fill="#707070"/>
<rect x="252" y="84" width="1" height="15" fill="#707070"/>
</g>
<path d="M273,89 A5.5,5.5 0 1 0 272,96" fill="none" stroke="#000" stroke-width="1.1"/>
<polyline points="272,88 276,90" fill="none" stroke="#000" stroke-width="1"/>
<g shape-rendering="crispEdges">
<rect x="267" y="84" width="1" height="16" fill="#b00010"/>
<rect x="260" y="93" width="16" height="1" fill="#c00010"/>
</g>
<circle cx="290.5" cy="91.5" r="6.5" fill="none" stroke="#c07090" stroke-width="0.8"/>
<polyline points="290.5,91.5 297.5,91.5" fill="none" stroke="#b04060" stroke-width="0.8"/>
<polyline points="290.5,91.5 283.5,91.5" fill="none" stroke="#b04060" stroke-width="0.8"/>
<polyline points="290.5,91.5 290.5,98.5" fill="none" stroke="#b04060" stroke-width="0.8"/>
<polyline points="290.5,91.5 290.5,84.5" fill="none" stroke="#b04060" stroke-width="0.8"/>
<polyline points="290.5,91.5 295.5,96.5" fill="none" stroke="#408070" stroke-width="0.9"/>
<polyline points="290.5,91.5 285.5,96.5" fill="none" stroke="#408070" stroke-width="0.9"/>
<polyline points="290.5,91.5 295.5,86.5" fill="none" stroke="#408070" stroke-width="0.9"/>
<polyline points="290.5,91.5 285.5,86.5" fill="none" stroke="#408070" stroke-width="0.9"/>
<circle cx="290.5" cy="91.5" r="1.6" fill="#b01040" stroke="#b01040" stroke-width="0"/>
<g shape-rendering="crispEdges">
<rect x="306.5" y="84.5" width="14" height="14" fill="none" stroke="#b07888" stroke-width="1"/>
<rect x="309.5" y="87.5" width="8" height="8" fill="none" stroke="#70a090" stroke-width="1"/>
<rect x="313" y="84" width="1" height="15" fill="#70a090"/>
<rect x="306" y="91" width="15" height="1" fill="#70a090"/>
<rect x="312" y="90" width="3" height="3" fill="#b01040"/>
</g>
<polyline points="306,84 321,99" fill="none" stroke="#a06070" stroke-width="0.8"/>
<polyline points="321,84 306,99" fill="none" stroke="#a06070" stroke-width="0.8"/>
<g shape-rendering="crispEdges">
<rect x="330" y="85" width="1" height="15" fill="#000"/>
<rect x="337" y="85" width="1" height="15" fill="#000"/>
<rect x="341" y="85" width="1" height="3" fill="#000"/>
<rect x="343" y="85" width="1" height="3" fill="#000"/>
</g>
<polyline points="330.5,94 337.5,87" fill="none" stroke="#000" stroke-width="1.1"/>
<g shape-rendering="crispEdges">
<rect x="352" y="87" width="17" height="1" fill="#000"/>
<rect x="352" y="84" width="1" height="7" fill="#000"/>
<rect x="355" y="84" width="1" height="7" fill="#000"/>
<rect x="360" y="84" width="1" height="7" fill="#000"/>
<rect x="367" y="84" width="1" height="7" fill="#000"/>
</g>
<text x="354.5" y="99.5" font-size="10.5" fill="#d00010" font-weight="bold" font-family='"Noto Sans CJK SC",sans-serif' textLength="10.5" lengthAdjust="spacingAndGlyphs">神</text>
<g shape-rendering="crispEdges">
<rect x="375" y="87" width="16" height="1" fill="#000"/>
<rect x="375" y="84" width="1" height="7" fill="#000"/>
<rect x="379" y="84" width="1" height="7" fill="#000"/>
<rect x="383" y="84" width="1" height="7" fill="#000"/>
<rect x="390" y="84" width="1" height="7" fill="#000"/>
</g>
<text x="377" y="100" font-size="11" fill="#c00010" font-weight="bold" font-family='"Noto Sans CJK SC",sans-serif' textLength="11" lengthAdjust="spacingAndGlyphs">赢</text>
<g shape-rendering="crispEdges">
<rect x="399" y="85" width="14" height="1" fill="#000"/>
<rect x="399" y="85" width="1" height="14" fill="#000"/>
<rect x="398" y="98" width="3" height="1" fill="#000"/>
<rect x="401" y="86" width="1" height="7" fill="#000"/>
<rect x="403" y="86" width="1" height="7" fill="#000"/>
<rect x="405" y="86" width="1" height="7" fill="#000"/>
<rect x="407" y="86" width="1" height="7" fill="#000"/>
<rect x="409" y="86" width="1" height="7" fill="#000"/>
<rect x="411" y="86" width="1" height="7" fill="#000"/>
<rect x="413" y="86" width="1" height="7" fill="#000"/>
<rect x="399" y="88" width="14" height="1" fill="#000"/>
<rect x="399" y="90" width="14" height="1" fill="#000"/>
<rect x="399" y="92" width="14" height="1" fill="#000"/>
</g>
<text x="402" y="99.5" font-size="5" fill="#000" font-weight="bold" font-family='"Liberation Sans","Noto Sans CJK SC",sans-serif' textLength="10" lengthAdjust="spacingAndGlyphs">123</text>
<g shape-rendering="crispEdges">
<rect x="421" y="85" width="1" height="12" fill="#000"/>
<rect x="428" y="84" width="1" height="16" fill="#000"/>
<rect x="435" y="84" width="1" height="13" fill="#000"/>
<rect x="421" y="90" width="15" height="1" fill="#000"/>
</g>
<polygon points="422,90.5 425,88.5 425,92.5" fill="#000" stroke="none" stroke-width="1"/>
<polygon points="434,90.5 431,88.5 431,92.5" fill="#000" stroke="none" stroke-width="1"/>
<g shape-rendering="crispEdges">
<rect x="459.5" y="85.5" width="9" height="9" fill="none" stroke="#000" stroke-width="1"/>
<rect x="456" y="85" width="1" height="10" fill="#808080"/>
<rect x="455" y="85" width="3" height="1" fill="#808080"/>
<rect x="455" y="94" width="3" height="1" fill="#808080"/>
<rect x="459" y="97" width="10" height="1" fill="#808080"/>
<rect x="459" y="95" width="1" height="4" fill="#808080"/>
<rect x="468" y="95" width="1" height="4" fill="#808080"/>
</g>
<polyline points="478,98.5 480.5,84.5" fill="none" stroke="#b00010" stroke-width="1"/>
<polyline points="478,98.5 485.5,84.5" fill="none" stroke="#c00010" stroke-width="1"/>
<polyline points="478,98.5 492,84.5" fill="none" stroke="#000" stroke-width="1"/>
<polyline points="478,98.5 492.5,91" fill="none" stroke="#c00010" stroke-width="1"/>
<polyline points="478,98.5 492.5,96.5" fill="none" stroke="#000" stroke-width="1"/>
<polygon points="477,99 481,99 477,95" fill="#900010" stroke="none" stroke-width="1"/>
<rect x="501" y="86.5" width="12.5" height="12.5" fill="#fff" stroke="#000" stroke-width="1.3"/>
<polyline points="501.5,98.5 503,87" fill="none" stroke="#c03030" stroke-width="1"/>
<polyline points="501.5,98.5 507,87" fill="none" stroke="#c03030" stroke-width="1"/>
<polyline points="501.5,98.5 512,88" fill="none" stroke="#c03030" stroke-width="1"/>
<polyline points="501.5,98.5 513,93" fill="none" stroke="#c03030" stroke-width="1"/>
<polyline points="501.5,98.5 513,97" fill="none" stroke="#c03030" stroke-width="1"/>
<polygon points="501,99 506,99 501,94" fill="#900010" stroke="none" stroke-width="1"/>
<g shape-rendering="crispEdges">
<rect x="504" y="84" width="1" height="2" fill="#000"/>
<rect x="508" y="84" width="1" height="2" fill="#000"/>
<rect x="514" y="90" width="2" height="1" fill="#000"/>
<rect x="514" y="94" width="2" height="1" fill="#000"/>
</g>
<rect x="523.5" y="84.5" width="13" height="13" fill="#fff" stroke="#000" stroke-width="1.3"/>
<polyline points="524,85 536,90" fill="none" stroke="#c03040" stroke-width="1"/>
<polyline points="524,85 536,94" fill="none" stroke="#c03040" stroke-width="1"/>
<polyline points="524,85 532,97" fill="none" stroke="#c03040" stroke-width="1"/>
<polyline points="524,85 528,97" fill="none" stroke="#c03040" stroke-width="1"/>
<polyline points="524,85 535,97" fill="none" stroke="#c03040" stroke-width="1"/>
<polygon points="523.5,84.5 528,84.5 523.5,89" fill="#900010" stroke="none" stroke-width="1"/>
<polyline points="530,97 533,100" fill="none" stroke="#000" stroke-width="1" stroke-dasharray="1,1"/>
<polyline points="536,95 539,100" fill="none" stroke="#000" stroke-width="1" stroke-dasharray="1,1"/>
<polyline points="546.5,98.5 562,84.5" fill="none" stroke="#000" stroke-width="1.1"/>
<polyline points="546.5,98.5 562,91" fill="none" stroke="#000" stroke-width="1.1"/>
<polyline points="546.5,98.5 562,95.5" fill="none" stroke="#000" stroke-width="1.1"/>
<polygon points="545,99.5 550,99.5 548,96" fill="#000" stroke="none" stroke-width="1"/>
<polyline points="569,85 576,98 580.5,89 584,93.5" fill="none" stroke="#000" stroke-width="1.1"/>
<polyline points="569,98.5 584,98.5" fill="none" stroke="#606060" stroke-width="1" stroke-dasharray="1,1"/>
<g shape-rendering="crispEdges">
<rect x="592.5" y="84.5" width="14" height="14" fill="none" stroke="#a06070" stroke-width="1"/>
<rect x="595" y="84" width="1" height="15" fill="#a06070"/>
<rect x="598" y="84" width="1" height="15" fill="#b09098"/>
<rect x="600" y="84" width="1" height="15" fill="#b09098"/>
<rect x="603" y="84" width="1" height="15" fill="#a06070"/>
<rect x="592" y="87" width="15" height="1" fill="#a06070"/>
<rect x="592" y="90" width="15" height="1" fill="#b09098"/>
<rect x="592" y="92" width="15" height="1" fill="#b09098"/>
<rect x="592" y="95" width="15" height="1" fill="#a06070"/>
<rect x="598" y="90" width="3" height="3" fill="#c03050"/>
</g>
<g shape-rendering="crispEdges">
<rect x="615.5" y="84.5" width="14" height="14" fill="none" stroke="#a06070" stroke-width="1"/>
<rect x="618" y="84" width="1" height="15" fill="#a06070"/>
<rect x="621" y="84" width="1" height="15" fill="#b09098"/>
<rect x="623" y="84" width="1" height="15" fill="#b09098"/>
<rect x="626" y="84" width="1" height="15" fill="#a06070"/>
<rect x="615" y="87" width="15" height="1" fill="#a06070"/>
<rect x="615" y="90" width="15" height="1" fill="#b09098"/>
<rect x="615" y="92" width="15" height="1" fill="#b09098"/>
<rect x="615" y="95" width="15" height="1" fill="#a06070"/>
<rect x="621" y="90" width="3" height="3" fill="#c03050"/>
</g>
<g shape-rendering="crispEdges">
<rect x="615" y="84" width="2" height="15" fill="#000"/>
<rect x="615" y="97" width="15" height="2" fill="#000"/>
</g>
<polygon points="616,82.5 613.5,86 618.5,86" fill="#000" stroke="none" stroke-width="1"/>
<polygon points="631.5,98 628,95.5 628,100.5" fill="#000" stroke="none" stroke-width="1"/>
<g shape-rendering="crispEdges">
<rect x="638" y="84" width="1" height="15" fill="#808080"/>
<rect x="649" y="84" width="1" height="15" fill="#808080"/>
</g>
<polyline points="639,90 653,84.5" fill="none" stroke="#000" stroke-width="1.1"/>
<polyline points="639,94.5 653,89.0" fill="none" stroke="#000" stroke-width="1.1"/>
<polyline points="639,99 653,93.5" fill="none" stroke="#000" stroke-width="1.1"/>
<g shape-rendering="crispEdges">
<rect x="672" y="85" width="2" height="14" fill="#000"/>
<rect x="672" y="98" width="12" height="1" fill="#000"/>
<rect x="672" y="85" width="9" height="1" fill="#000"/>
<rect x="672" y="88" width="9" height="1" fill="#000"/>
<rect x="672" y="91" width="9" height="1" fill="#000"/>
<rect x="672" y="94" width="9" height="1" fill="#000"/>
<rect x="675" y="86" width="1" height="2" fill="#000"/>
<rect x="678" y="86" width="1" height="2" fill="#000"/>
<rect x="675" y="89" width="1" height="2" fill="#000"/>
<rect x="678" y="89" width="1" height="2" fill="#000"/>
<rect x="675" y="92" width="1" height="2" fill="#000"/>
<rect x="678" y="92" width="1" height="2" fill="#000"/>
<rect x="675" y="95" width="1" height="2" fill="#000"/>
<rect x="678" y="95" width="1" height="2" fill="#000"/>
</g>
<text x="682" y="91" font-size="5" fill="#000" font-weight="bold" font-family='"Liberation Sans","Noto Sans CJK SC",sans-serif' textLength="4" lengthAdjust="spacingAndGlyphs">123</text>
<g shape-rendering="crispEdges">
<rect x="694" y="84" width="16" height="1" fill="#e00010"/>
<rect x="694" y="99" width="8" height="1" fill="#e00010"/>
<rect x="702" y="93" width="8" height="1" fill="#e00010"/>
</g>
<polyline points="697,99 702,84.5 708,90" fill="none" stroke="#000" stroke-width="1"/>
<polyline points="702,84.5 708,84.5" fill="none" stroke="#000" stroke-width="1"/>
<text x="700.5" y="99.5" font-size="9.5" fill="#e00010" font-weight="normal" font-family='"Liberation Sans","Noto Sans CJK SC",sans-serif' textLength="9" lengthAdjust="spacingAndGlyphs">%</text>
<text x="718.8" y="98" font-size="14.5" fill="#000" font-weight="normal" font-family='"Liberation Sans","Noto Sans CJK SC",sans-serif' textLength="11.5" lengthAdjust="spacingAndGlyphs">%</text>
<g shape-rendering="crispEdges">
<rect x="740" y="84" width="17" height="1" fill="#000"/>
<rect x="749" y="87" width="8" height="1" fill="#000"/>
<rect x="750" y="92" width="7" height="1" fill="#000"/>
<rect x="740" y="99" width="17" height="1" fill="#000"/>
</g>
<text x="740" y="98" font-size="10.5" fill="#e00010" font-weight="normal" font-family='"Liberation Sans","Noto Sans CJK SC",sans-serif' textLength="9" lengthAdjust="spacingAndGlyphs">%</text>
<circle cx="771" cy="91.5" r="7.3" fill="#f4f4d0" stroke="#909090" stroke-width="1"/>
<text x="766" y="96.5" font-size="9.5" fill="#909000" font-weight="normal" font-family='"Noto Sans CJK SC",sans-serif' textLength="9.5" lengthAdjust="spacingAndGlyphs">金</text>
<g shape-rendering="crispEdges">
<rect x="786" y="84" width="17" height="1" fill="#000"/>
<rect x="794" y="87" width="9" height="1" fill="#000"/>
<rect x="796" y="92" width="7" height="1" fill="#000"/>
<rect x="786" y="99" width="17" height="1" fill="#000"/>
</g>
<text x="786" y="97.5" font-size="9.5" fill="#a8a000" font-weight="normal" font-family='"Noto Sans CJK SC",sans-serif' textLength="9.5" lengthAdjust="spacingAndGlyphs">金</text>
<g shape-rendering="crispEdges">
<rect x="811" y="84" width="1" height="16" fill="#000"/>
<rect x="809" y="86" width="5" height="1" fill="#000"/>
<rect x="809" y="89" width="5" height="1" fill="#000"/>
<rect x="809" y="93" width="5" height="1" fill="#000"/>
<rect x="809" y="97" width="5" height="1" fill="#000"/>
</g>
<polygon points="815,97 821,88 824,86 825,90 818,98" fill="#d0d0d0" stroke="#000" stroke-width="1"/>
<polygon points="821,88 824,85 825,90 823,90" fill="#e00010" stroke="none" stroke-width="1"/>
<g shape-rendering="crispEdges">
<rect x="832" y="84" width="17" height="1" fill="#e00010"/>
<rect x="832" y="99" width="17" height="1" fill="#e00010"/>
<rect x="832" y="91" width="17" height="1" fill="#000"/>
</g>
<path d="M832,97 Q834,84 837,86 Q840,92 842,97 Q845,99 847,86" fill="none" stroke="#708090" stroke-width="1"/>
<g shape-rendering="crispEdges">
<rect x="855" y="84" width="17" height="1" fill="#e00010"/>
<rect x="855" y="99" width="17" height="1" fill="#e00010"/>
</g>
<text x="857.5" y="96.5" font-size="11" fill="#a8a000" font-weight="normal" font-family='"Noto Sans CJK SC",sans-serif' textLength="11" lengthAdjust="spacingAndGlyphs">金</text>
<polyline points="878,99.5 893.5,84" fill="none" stroke="#000" stroke-width="1.2"/>
<g shape-rendering="crispEdges">
<rect x="887" y="91" width="6" height="1" fill="#000"/>
<rect x="883" y="95" width="10" height="1" fill="#000"/>
<rect x="880" y="98" width="13" height="1" fill="#000"/>
</g>
<text x="877.5" y="92.8" font-size="11" fill="#c01030" font-weight="normal" font-family='"Liberation Sans","Noto Sans CJK SC",sans-serif' textLength="5.5" lengthAdjust="spacingAndGlyphs">J</text>
<polyline points="901,99.5 916.5,84" fill="none" stroke="#000" stroke-width="1.2"/>
<g shape-rendering="crispEdges">
<rect x="910" y="91" width="6" height="1" fill="#000"/>
<rect x="906" y="95" width="10" height="1" fill="#000"/>
<rect x="903" y="98" width="13" height="1" fill="#000"/>
</g>
<text x="901.2" y="94" font-size="13" fill="#e00010" font-weight="bold" font-family='"Liberation Sans","Noto Sans CJK SC",sans-serif' textLength="7.5" lengthAdjust="spacingAndGlyphs">F</text>
<polyline points="924,99.5 939.5,84" fill="none" stroke="#000" stroke-width="1.2"/>
<g shape-rendering="crispEdges">
<rect x="933" y="91" width="6" height="1" fill="#000"/>
<rect x="929" y="95" width="10" height="1" fill="#000"/>
<rect x="926" y="98" width="13" height="1" fill="#000"/>
</g>
<text x="922.5" y="94" font-size="9.5" fill="#a8a000" font-weight="normal" font-family='"Noto Sans CJK SC",sans-serif' textLength="9.5" lengthAdjust="spacingAndGlyphs">金</text>
<polyline points="947,99.5 962.5,84" fill="none" stroke="#000" stroke-width="1.2"/>
<g shape-rendering="crispEdges">
<rect x="956" y="91" width="6" height="1" fill="#000"/>
<rect x="952" y="95" width="10" height="1" fill="#000"/>
<rect x="949" y="98" width="13" height="1" fill="#000"/>
</g>
<text x="945" y="95" font-size="11" fill="#e00010" font-weight="bold" font-family='"Noto Sans CJK SC",sans-serif' textLength="11" lengthAdjust="spacingAndGlyphs">神</text>
<polyline points="970,99.5 985.5,84" fill="none" stroke="#000" stroke-width="1.2"/>
<g shape-rendering="crispEdges">
<rect x="979" y="91" width="6" height="1" fill="#000"/>
<rect x="975" y="95" width="10" height="1" fill="#000"/>
<rect x="972" y="98" width="13" height="1" fill="#000"/>
</g>
<text x="968" y="95" font-size="11" fill="#c00010" font-weight="bold" font-family='"Noto Sans CJK SC",sans-serif' textLength="11" lengthAdjust="spacingAndGlyphs">赢</text>
<polyline points="993,99.5 1008.5,84" fill="none" stroke="#000" stroke-width="1.2"/>
<g shape-rendering="crispEdges">
<rect x="1002" y="91" width="6" height="1" fill="#000"/>
<rect x="998" y="95" width="10" height="1" fill="#000"/>
<rect x="995" y="98" width="13" height="1" fill="#000"/>
</g>
<text x="992" y="93.5" font-size="10" fill="#c00010" font-weight="normal" font-family='"Noto Sans CJK SC",sans-serif' textLength="10" lengthAdjust="spacingAndGlyphs">四</text>
<rect x="68" y="119" width="1165" height="1" fill="#a0a0a0"/>
<text x="68.5" y="117" font-size="10.4" fill="#a8a8a8" font-family='"Liberation Sans","Noto Sans CJK SC",sans-serif' textLength="20.7" lengthAdjust="spacingAndGlyphs">06-16</text>
<text x="127.6" y="117" font-size="10.4" fill="#a8a8a8" font-family='"Liberation Sans","Noto Sans CJK SC",sans-serif' textLength="22" lengthAdjust="spacingAndGlyphs">06-30</text>
<text x="197.5" y="117" font-size="10.4" fill="#a8a8a8" font-family='"Liberation Sans","Noto Sans CJK SC",sans-serif' textLength="20.2" lengthAdjust="spacingAndGlyphs">07-14</text>
<text x="267.5" y="117" font-size="10.4" fill="#a8a8a8" font-family='"Liberation Sans","Noto Sans CJK SC",sans-serif' textLength="22" lengthAdjust="spacingAndGlyphs">07-28</text>
<text x="337.4" y="117" font-size="10.4" fill="#a8a8a8" font-family='"Liberation Sans","Noto Sans CJK SC",sans-serif' textLength="19.5" lengthAdjust="spacingAndGlyphs">08-11</text>
<text x="407.5" y="117" font-size="10.4" fill="#a8a8a8" font-family='"Liberation Sans","Noto Sans CJK SC",sans-serif' textLength="21.5" lengthAdjust="spacingAndGlyphs">08-25</text>
<text x="477.5" y="117" font-size="10.4" fill="#a8a8a8" font-family='"Liberation Sans","Noto Sans CJK SC",sans-serif' textLength="21.5" lengthAdjust="spacingAndGlyphs">09-08</text>
<text x="547.5" y="117" font-size="10.4" fill="#a8a8a8" font-family='"Liberation Sans","Noto Sans CJK SC",sans-serif' textLength="21.5" lengthAdjust="spacingAndGlyphs">09-22</text>
<text x="617.5" y="117" font-size="10.4" fill="#a8a8a8" font-family='"Liberation Sans","Noto Sans CJK SC",sans-serif' textLength="20" lengthAdjust="spacingAndGlyphs">10-13</text>
<text x="687.5" y="117" font-size="10.4" fill="#a8a8a8" font-family='"Liberation Sans","Noto Sans CJK SC",sans-serif' textLength="21" lengthAdjust="spacingAndGlyphs">10-27</text>
<text x="757.5" y="117" font-size="10.4" fill="#a8a8a8" font-family='"Liberation Sans","Noto Sans CJK SC",sans-serif' textLength="19.5" lengthAdjust="spacingAndGlyphs">11-10</text>
<text x="827.5" y="117" font-size="10.4" fill="#a8a8a8" font-family='"Liberation Sans","Noto Sans CJK SC",sans-serif' textLength="20" lengthAdjust="spacingAndGlyphs">11-24</text>
<text x="897.5" y="117" font-size="10.4" fill="#a8a8a8" font-family='"Liberation Sans","Noto Sans CJK SC",sans-serif' textLength="21" lengthAdjust="spacingAndGlyphs">12-08</text>
<text x="967.5" y="117" font-size="10.4" fill="#a8a8a8" font-family='"Liberation Sans","Noto Sans CJK SC",sans-serif' textLength="21" lengthAdjust="spacingAndGlyphs">12-22</text>
<text x="1108" y="117" font-size="10.4" fill="#a8a8a8" font-family='"Liberation Sans","Noto Sans CJK SC",sans-serif' textLength="21" lengthAdjust="spacingAndGlyphs">01-22</text>
<text x="1178" y="117" font-size="10.4" fill="#a8a8a8" font-family='"Liberation Sans","Noto Sans CJK SC",sans-serif' textLength="21" lengthAdjust="spacingAndGlyphs">02-05</text>
<rect x="1001" y="107" width="56" height="12" fill="#e0101c"/>
<text x="1002" y="117.8" font-size="12" fill="#ffffff" font-family='"Liberation Sans","Noto Sans CJK SC",sans-serif' textLength="53.4" lengthAdjust="spacingAndGlyphs">2018-01-03</text>
<text x="0.6" y="124" font-size="12.5" fill="#0808b0" font-family='"Liberation Sans","Noto Sans CJK SC",sans-serif' textLength="32" lengthAdjust="spacingAndGlyphs">日K线</text>
<text x="68.8" y="132.3" font-size="12.5" fill="#000000" font-family='"Liberation Sans","Noto Sans CJK SC",sans-serif' textLength="51" lengthAdjust="spacingAndGlyphs">极反通道</text>
<text x="139.2" y="131.5" font-size="10.5" fill="#c4101e" font-family='"Liberation Sans","Noto Sans CJK SC",sans-serif' textLength="68.8" lengthAdjust="spacingAndGlyphs">Tp=3583.4856</text>
<text x="217.6" y="131.5" font-size="10.5" fill="#1010a8" font-family='"Liberation Sans","Noto Sans CJK SC",sans-serif' textLength="69" lengthAdjust="spacingAndGlyphs">Up=3471.4533</text>
<text x="296.3" y="131.5" font-size="10.5" fill="#000000" font-family='"Liberation Sans","Noto Sans CJK SC",sans-serif' textLength="69" lengthAdjust="spacingAndGlyphs">Md=3345.5998</text>
<text x="375.3" y="131.5" font-size="10.5" fill="#1010a8" font-family='"Liberation Sans","Noto Sans CJK SC",sans-serif' textLength="69" lengthAdjust="spacingAndGlyphs">Dn=3173.6269</text>
<text x="454.3" y="131.5" font-size="10.5" fill="#c4101e" font-family='"Liberation Sans","Noto Sans CJK SC",sans-serif' textLength="66.7" lengthAdjust="spacingAndGlyphs">Bt=3018.7982</text>
<text x="1134" y="132.8" font-size="13.5" fill="#1a1aa0" font-family='"Liberation Mono",monospace' textLength="39" lengthAdjust="spacingAndGlyphs">1A0001</text>
<text x="1184" y="133.5" font-size="13" fill="#1a1aa0" font-family='"Liberation Sans","Noto Sans CJK SC",sans-serif' textLength="52" lengthAdjust="spacingAndGlyphs">上证指数</text>
<g shape-rendering="crispEdges">
<line x1="68" y1="408.5" x2="1233" y2="408.5" stroke="#000" stroke-width="1" stroke-dasharray="3,3"/>
<line x1="1030" y1="248.5" x2="1233" y2="248.5" stroke="#909090" stroke-width="1" stroke-dasharray="4,2"/>
<line x1="68" y1="499.5" x2="1233" y2="499.5" stroke="#8c8c8c" stroke-width="1" stroke-dasharray="3,3"/>
<line x1="68" y1="517.5" x2="1233" y2="517.5" stroke="#8c8c8c" stroke-width="1" stroke-dasharray="3,3"/>
<line x1="68" y1="533.5" x2="1233" y2="533.5" stroke="#8c8c8c" stroke-width="1" stroke-dasharray="3,3"/>
<line x1="68" y1="549.5" x2="1233" y2="549.5" stroke="#8c8c8c" stroke-width="1" stroke-dasharray="3,3"/>
</g>
<rect x="0" y="402" width="68" height="12" fill="#ee0a10"/>
<rect x="49.5" y="402.5" width="18" height="11" fill="none" stroke="#600010" stroke-width="1"/>
<text x="49" y="413" font-size="12.5" fill="#ffffff" font-family='"Liberation Sans","Noto Sans CJK SC",sans-serif' textLength="50.5" lengthAdjust="spacingAndGlyphs" text-anchor="end">3005.6123</text>
<text x="11.5" y="497" font-size="10.6" fill="#303030" font-family='"Liberation Mono",monospace' textLength="53.5" lengthAdjust="spacingAndGlyphs">2810.2396</text>
<text x="11.5" y="521" font-size="10.6" fill="#303030" font-family='"Liberation Mono",monospace' textLength="53.5" lengthAdjust="spacingAndGlyphs">205452801</text>
<text x="11.5" y="537" font-size="10.6" fill="#303030" font-family='"Liberation Mono",monospace' textLength="53.5" lengthAdjust="spacingAndGlyphs">136968534</text>
<text x="17.5" y="553" font-size="10.6" fill="#303030" font-family='"Liberation Mono",monospace' textLength="47.5" lengthAdjust="spacingAndGlyphs">68484267</text>
<polyline points="71.0,240.6 84.3,243.0 99.0,245.4 113.5,246.0 125.7,248.3 145.0,251.0 159.8,252.2 172.0,252.0 183.0,253.5 191.4,251.0 201.0,249.0 209.6,249.0 219.4,243.0 230.3,238.9 247.3,238.0 264.4,234.5 279.0,231.3 288.7,228.4 300.9,227.7 310.6,225.5 316.7,226.4 322.8,223.5 336.0,222.3 345.9,218.2 350.0,216.2 359.7,214.2 374.3,212.5 391.4,210.6 407.2,208.6 420.6,202.0 431.5,196.4 443.7,195.5 454.6,193.0 466.8,190.4 481.4,185.0 496.0,180.9 510.6,178.2 525.2,174.0 535.0,173.3 544.6,172.8 553.2,170.9 558.0,172.5 561.0,174.3 565.8,173.3 570.0,173.8 574.6,175.5 585.3,175.5 587.3,174.3 592.1,174.3 594.0,175.5 598.0,175.5 601.9,172.6 613.5,172.4 614.5,171.4 628.1,170.9 635.0,170.2 636.0,169.3 669.0,169.3 670.5,168.3 676.8,168.0 680.0,167.3 686.2,168.4 698.4,167.9 710.6,163.3 722.7,160.4 732.5,159.4 742.2,157.0 754.4,154.8 761.7,154.8 771.4,156.7 783.6,154.5 795.7,153.1 807.9,152.8 812.7,150.9 824.9,148.0 834.6,143.4 839.5,142.4 859.0,142.4 868.7,141.4 878.4,141.4 890.6,143.6 905.2,142.4 917.4,140.0 929.5,137.5 940.3,137.5 951.2,140.2 969.5,140.0 981.7,141.4 993.8,139.0 1013.3,138.2 1023.0,137.5 1030.3,139.0 1045.0,143.1 1052.2,148.0 1064.4,151.6 1074.1,153.6 1088.7,159.4 1103.3,165.0 1120.3,169.9 1135.0,176.0 1147.1,179.6 1166.6,191.0 1181.2,200.3 1195.8,204.7 1208.0,208.0 1220.1,212.0 1233.0,212.0" fill="none" stroke="#b01830" stroke-width="1" shape-rendering="crispEdges"/>
<polyline points="71.0,289.3 84.3,292.5 101.4,295.4 118.4,297.4 137.9,299.1 157.3,299.3 172.0,299.3 184.0,299.1 196.3,297.4 210.9,295.4 225.4,291.3 237.6,287.6 252.2,285.2 266.8,282.0 283.8,279.6 296.0,277.2 313.0,273.5 327.6,269.9 342.2,266.2 354.6,263.3 371.6,260.3 388.7,257.9 405.7,255.5 415.4,252.3 425.2,248.2 437.3,245.0 451.9,241.8 466.5,238.2 481.1,234.1 495.7,229.7 510.3,226.8 520.3,224.0 529.8,223.1 546.8,219.5 561.7,219.0 583.6,218.3 597.9,215.1 612.5,212.7 622.5,212.0 635.9,210.6 649.7,209.5 671.6,208.8 696.0,205.6 717.9,200.3 739.8,195.9 754.4,193.5 778.7,193.0 786.0,191.8 810.3,189.3 834.6,185.2 878.4,185.2 885.7,187.2 895.5,187.6 915.0,186.2 924.7,185.2 939.0,185.7 951.2,188.1 979.2,190.6 1025.5,190.6 1035.2,192.5 1052.2,197.4 1071.7,200.3 1088.7,204.7 1108.2,208.8 1125.2,212.9 1147.1,217.3 1169.0,223.4 1181.2,229.0 1195.8,230.7 1215.2,233.9 1233.0,233.9" fill="none" stroke="#1c1890" stroke-width="1" shape-rendering="crispEdges"/>
<polyline points="71.3,345.2 84.3,348.2 90.8,349.5 104.6,351.2 116.7,353.5 131.3,353.9 145.0,354.0 164.6,353.0 189.0,350.6 215.7,347.6 235.2,344.5 254.6,340.3 279.0,335.5 303.3,329.9 317.9,325.0 339.8,320.1 364.3,314.7 388.7,311.1 413.0,306.2 442.2,299.4 449.5,296.5 476.3,290.4 510.3,280.5 534.6,275.5 559.0,270.0 583.3,265.3 607.6,260.8 620.0,259.6 644.3,256.0 668.7,253.0 685.7,250.6 705.2,245.7 729.5,241.4 753.8,237.2 778.2,234.1 802.5,232.4 826.8,232.1 851.1,232.8 875.5,234.5 899.8,236.8 920.0,238.0 940.5,239.5 981.0,245.3 1018.9,249.3 1029.7,249.9 1062.0,252.0 1102.7,254.7 1143.2,258.8 1175.7,260.7 1183.8,259.6 1210.8,258.8 1233.0,258.8" fill="none" stroke="#000000" stroke-width="1" shape-rendering="crispEdges"/>
<polyline points="71.0,421.3 89.2,425.2 111.1,429.3 135.4,429.3 142.7,427.4 157.3,426.2 176.8,424.5 182.9,421.6 206.0,421.3 212.1,419.1 218.2,422.3 232.7,422.3 247.3,416.4 262.0,413.0 268.0,410.6 276.5,409.9 288.7,407.4 296.0,404.5 303.3,402.6 317.9,395.3 325.2,395.3 330.0,392.4 342.2,390.4 354.6,389.5 369.2,386.9 388.7,383.2 405.7,379.6 425.2,379.1 434.9,376.6 447.1,371.0 466.5,365.2 490.9,360.3 510.3,354.7 524.9,351.8 539.5,347.7 551.7,345.0 559.0,340.9 576.0,332.8 595.5,328.7 605.2,327.3 620.0,323.0 641.9,319.9 663.8,313.8 680.8,311.4 697.9,303.6 727.0,299.7 751.4,298.7 768.4,292.6 778.2,291.4 797.6,290.7 807.3,290.7 817.1,293.1 828.8,293.6 833.6,296.5 839.5,297.5 849.2,298.6 859.0,300.1 873.5,302.5 891.0,302.5 897.9,304.5 907.6,306.2 917.3,308.4 927.0,311.1 940.0,313.4 948.6,313.8 973.0,320.0 981.0,320.5 1013.5,329.5 1029.7,330.8 1046.0,329.5 1051.4,326.5 1067.6,324.6 1089.2,321.1 1110.8,318.6 1124.3,319.2 1143.2,316.5 1170.3,310.3 1178.4,306.5 1205.4,297.6 1233.0,292.2" fill="none" stroke="#1c1890" stroke-width="1" shape-rendering="crispEdges"/>
<polyline points="71.0,489.3 84.3,492.3 98.9,494.2 106.2,497.9 112.3,499.0 125.7,498.3 142.7,494.2 157.3,493.0 164.6,490.6 176.8,489.3 184.0,484.5 196.3,485.7 210.9,484.5 220.6,489.3 232.7,491.0 247.3,482.0 262.0,480.1 269.2,477.2 288.7,474.7 308.2,465.0 317.9,459.4 325.2,458.9 337.4,454.8 349.6,456.4 359.5,456.4 364.3,453.9 376.5,452.0 398.4,445.4 410.6,444.2 417.9,445.4 427.6,447.4 447.1,437.6 456.8,433.7 471.4,430.3 478.7,430.3 495.7,427.2 500.6,426.0 510.3,421.8 527.3,418.2 541.9,413.3 554.1,410.1 561.4,401.6 576.0,393.1 595.5,386.5 602.8,387.5 619.8,380.6 630.2,377.2 639.3,376.9 650.7,372.6 659.8,371.1 667.7,367.3 678.0,365.2 683.6,363.0 691.6,358.4 700.7,354.2 708.6,356.5 718.9,354.8 730.2,352.2 733.6,353.3 751.8,353.3 766.0,345.9 778.2,342.5 790.3,343.0 804.9,342.5 817.1,347.4 826.8,348.3 834.1,353.9 846.3,356.4 856.0,359.5 868.3,362.6 891.6,362.6 900.0,365.2 913.5,369.7 932.4,377.8 948.6,379.5 962.2,382.7 975.7,388.1 981.0,388.6 1002.7,395.7 1024.3,403.0 1029.7,403.0 1040.5,399.7 1054.0,392.2 1073.0,388.1 1089.2,382.2 1105.4,378.1 1121.6,375.1 1132.4,371.9 1143.2,369.2 1159.5,359.7 1170.3,353.5 1178.4,346.2 1197.3,336.8 1218.9,326.5 1233.0,321.9" fill="none" stroke="#b01830" stroke-width="1" shape-rendering="crispEdges"/>
<text x="805.9" y="216.8" font-size="10.5" fill="#3030d0" font-family='"DejaVu Sans",sans-serif' textLength="58" lengthAdjust="spacingAndGlyphs">3450.4900</text>
<text x="91.6" y="353.1" font-size="10.5" fill="#3030d0" font-family='"DejaVu Sans",sans-serif' textLength="57.6" lengthAdjust="spacingAndGlyphs">3117.8601</text>
<polyline points="785.5,201.5 804.5,206.5" fill="none" stroke="#1a1a90" stroke-dasharray="3,2" shape-rendering="crispEdges"/>
<polyline points="72,356.5 91,351.5" fill="none" stroke="#1a1a90" stroke-dasharray="3,2" shape-rendering="crispEdges"/>
<g shape-rendering="crispEdges">
<rect x="71" y="349" width="1" height="8" fill="#008000"/>
<rect x="68" y="352" width="6" height="1" fill="#008000"/>
<rect x="75.5" y="343.5" width="5" height="10" fill="#ff8098" fill-opacity="0.08" stroke="#c8182c"/>
<rect x="78" y="342" width="1" height="1" fill="#c8182c"/>
<rect x="85" y="346" width="1" height="3" fill="#008000"/>
<rect x="82" y="342" width="6" height="4" fill="#008000"/>
<rect x="89.5" y="338.5" width="5" height="3" fill="#ff8098" fill-opacity="0.08" stroke="#c8182c"/>
<rect x="92" y="337" width="1" height="1" fill="#c8182c"/>
<rect x="92" y="342" width="1" height="6" fill="#c8182c"/>
<rect x="99" y="325" width="1" height="15" fill="#008000"/>
<rect x="96" y="340" width="6" height="3" fill="#008000"/>
<rect x="103.5" y="337.5" width="5" height="8" fill="#ff8098" fill-opacity="0.08" stroke="#c8182c"/>
<rect x="106" y="346" width="1" height="10" fill="#c8182c"/>
<rect x="110.5" y="324.5" width="5" height="13" fill="#ff8098" fill-opacity="0.08" stroke="#c8182c"/>
<rect x="113" y="323" width="1" height="1" fill="#c8182c"/>
<rect x="117.5" y="323.5" width="5" height="2" fill="#ff8098" fill-opacity="0.08" stroke="#c8182c"/>
<rect x="120" y="321" width="1" height="2" fill="#c8182c"/>
<rect x="120" y="326" width="1" height="5" fill="#c8182c"/>
<rect x="127" y="322" width="1" height="3" fill="#008000"/>
<rect x="127" y="331" width="1" height="1" fill="#008000"/>
<rect x="124" y="325" width="6" height="6" fill="#008000"/>
<rect x="131.5" y="323.5" width="5" height="5" fill="#ff8098" fill-opacity="0.08" stroke="#c8182c"/>
<rect x="138.5" y="321.5" width="5" height="6" fill="#ff8098" fill-opacity="0.08" stroke="#c8182c"/>
<rect x="141" y="328" width="1" height="3" fill="#c8182c"/>
<rect x="148" y="319" width="1" height="10" fill="#c8182c"/>
<rect x="145" y="319" width="6" height="2" fill="#c8182c"/>
<rect x="155" y="325" width="1" height="5" fill="#008000"/>
<rect x="152" y="322" width="6" height="3" fill="#008000"/>
<rect x="159.5" y="314.5" width="5" height="13" fill="#ff8098" fill-opacity="0.08" stroke="#c8182c"/>
<rect x="162" y="328" width="1" height="2" fill="#c8182c"/>
<rect x="166.5" y="312.5" width="5" height="3" fill="#ff8098" fill-opacity="0.08" stroke="#c8182c"/>
<rect x="169" y="310" width="1" height="2" fill="#c8182c"/>
<rect x="169" y="316" width="1" height="8" fill="#c8182c"/>
<rect x="173.5" y="309.5" width="5" height="6" fill="#ff8098" fill-opacity="0.08" stroke="#c8182c"/>
<rect x="176" y="308" width="1" height="1" fill="#c8182c"/>
<rect x="176" y="316" width="1" height="5" fill="#c8182c"/>
<rect x="183" y="307" width="1" height="10" fill="#c8182c"/>
<rect x="180" y="312" width="6" height="2" fill="#c8182c"/>
<rect x="190" y="305" width="1" height="12" fill="#c8182c"/>
<rect x="187" y="316" width="6" height="1" fill="#c8182c"/>
<rect x="197" y="311" width="1" height="18" fill="#008000"/>
<rect x="194" y="317" width="6" height="2" fill="#008000"/>
<rect x="201.5" y="309.5" width="5" height="12" fill="#ff8098" fill-opacity="0.08" stroke="#c8182c"/>
<rect x="204" y="308" width="1" height="1" fill="#c8182c"/>
<rect x="204" y="322" width="1" height="1" fill="#c8182c"/>
<rect x="208.5" y="307.5" width="5" height="5" fill="#ff8098" fill-opacity="0.08" stroke="#c8182c"/>
<rect x="211" y="313" width="1" height="3" fill="#c8182c"/>
<rect x="218" y="304" width="1" height="4" fill="#008000"/>
<rect x="218" y="328" width="1" height="19" fill="#008000"/>
<rect x="215" y="308" width="6" height="20" fill="#008000"/>
<rect x="222.5" y="323.5" width="5" height="13" fill="#ff8098" fill-opacity="0.08" stroke="#c8182c"/>
<rect x="225" y="337" width="1" height="5" fill="#c8182c"/>
<rect x="229.5" y="303.5" width="5" height="22" fill="#ff8098" fill-opacity="0.08" stroke="#c8182c"/>
<rect x="236.5" y="297.5" width="5" height="7" fill="#ff8098" fill-opacity="0.08" stroke="#c8182c"/>
<rect x="239" y="296" width="1" height="1" fill="#c8182c"/>
<rect x="239" y="305" width="1" height="2" fill="#c8182c"/>
<rect x="246" y="295" width="1" height="8" fill="#c8182c"/>
<rect x="243" y="300" width="6" height="1" fill="#c8182c"/>
<rect x="250.5" y="294.5" width="5" height="8" fill="#ff8098" fill-opacity="0.08" stroke="#c8182c"/>
<rect x="253" y="289" width="1" height="5" fill="#c8182c"/>
<rect x="260" y="290" width="1" height="13" fill="#008000"/>
<rect x="257" y="295" width="6" height="2" fill="#008000"/>
<rect x="267" y="287" width="1" height="18" fill="#c8182c"/>
<rect x="264" y="295" width="6" height="2" fill="#c8182c"/>
<rect x="271.5" y="294.5" width="5" height="3" fill="#ff8098" fill-opacity="0.08" stroke="#c8182c"/>
<rect x="274" y="298" width="1" height="11" fill="#c8182c"/>
<rect x="278.5" y="293.5" width="5" height="5" fill="#ff8098" fill-opacity="0.08" stroke="#c8182c"/>
<rect x="281" y="291" width="1" height="2" fill="#c8182c"/>
<rect x="281" y="299" width="1" height="4" fill="#c8182c"/>
<rect x="285.5" y="283.5" width="5" height="10" fill="#ff8098" fill-opacity="0.08" stroke="#c8182c"/>
<rect x="288" y="282" width="1" height="1" fill="#c8182c"/>
<rect x="288" y="294" width="1" height="1" fill="#c8182c"/>
<rect x="292.5" y="274.5" width="5" height="8" fill="#ff8098" fill-opacity="0.08" stroke="#c8182c"/>
<rect x="302" y="269" width="1" height="7" fill="#008000"/>
<rect x="302" y="279" width="1" height="1" fill="#008000"/>
<rect x="299" y="276" width="6" height="3" fill="#008000"/>
<rect x="309" y="275" width="1" height="5" fill="#008000"/>
<rect x="309" y="284" width="1" height="6" fill="#008000"/>
<rect x="306" y="280" width="6" height="4" fill="#008000"/>
<rect x="316" y="278" width="1" height="7" fill="#008000"/>
<rect x="313" y="285" width="6" height="4" fill="#008000"/>
<rect x="320.5" y="280.5" width="5" height="10" fill="#ff8098" fill-opacity="0.08" stroke="#c8182c"/>
<rect x="323" y="291" width="1" height="7" fill="#c8182c"/>
<rect x="327.5" y="279.5" width="5" height="3" fill="#ff8098" fill-opacity="0.08" stroke="#c8182c"/>
<rect x="330" y="283" width="1" height="3" fill="#c8182c"/>
<rect x="337" y="281" width="1" height="8" fill="#008000"/>
<rect x="334" y="281" width="6" height="1" fill="#008000"/>
<rect x="344" y="280" width="1" height="5" fill="#008000"/>
<rect x="344" y="290" width="1" height="12" fill="#008000"/>
<rect x="341" y="285" width="6" height="5" fill="#008000"/>
<rect x="351" y="297" width="1" height="3" fill="#008000"/>
<rect x="351" y="314" width="1" height="4" fill="#008000"/>
<rect x="348" y="300" width="6" height="14" fill="#008000"/>
<rect x="355.5" y="300.5" width="5" height="15" fill="#ff8098" fill-opacity="0.08" stroke="#c8182c"/>
<rect x="358" y="299" width="1" height="1" fill="#c8182c"/>
<rect x="362.5" y="294.5" width="5" height="7" fill="#ff8098" fill-opacity="0.08" stroke="#c8182c"/>
<rect x="365" y="288" width="1" height="6" fill="#c8182c"/>
<rect x="372" y="295" width="1" height="10" fill="#008000"/>
<rect x="369" y="295" width="6" height="1" fill="#008000"/>
<rect x="376.5" y="286.5" width="5" height="6" fill="#ff8098" fill-opacity="0.08" stroke="#c8182c"/>
<rect x="379" y="293" width="1" height="1" fill="#c8182c"/>
<rect x="383.5" y="285.5" width="5" height="8" fill="#ff8098" fill-opacity="0.08" stroke="#c8182c"/>
<rect x="386" y="282" width="1" height="3" fill="#c8182c"/>
<rect x="386" y="294" width="1" height="2" fill="#c8182c"/>
<rect x="390.5" y="277.5" width="5" height="5" fill="#ff8098" fill-opacity="0.08" stroke="#c8182c"/>
<rect x="393" y="283" width="1" height="3" fill="#c8182c"/>
<rect x="400" y="274" width="1" height="10" fill="#c8182c"/>
<rect x="397" y="275" width="6" height="2" fill="#c8182c"/>
<rect x="407" y="271" width="1" height="13" fill="#c8182c"/>
<rect x="404" y="277" width="6" height="1" fill="#c8182c"/>
<rect x="414" y="273" width="1" height="3" fill="#008000"/>
<rect x="414" y="284" width="1" height="3" fill="#008000"/>
<rect x="411" y="276" width="6" height="8" fill="#008000"/>
<rect x="418.5" y="256.5" width="5" height="27" fill="#ff8098" fill-opacity="0.08" stroke="#c8182c"/>
<rect x="425.5" y="242.5" width="5" height="12" fill="#ff8098" fill-opacity="0.08" stroke="#c8182c"/>
<rect x="428" y="236" width="1" height="6" fill="#c8182c"/>
<rect x="435" y="236" width="1" height="10" fill="#c8182c"/>
<rect x="432" y="240" width="6" height="2" fill="#c8182c"/>
<rect x="442" y="235" width="1" height="10" fill="#c8182c"/>
<rect x="439" y="241" width="6" height="1" fill="#c8182c"/>
<rect x="449" y="242" width="1" height="11" fill="#008000"/>
<rect x="446" y="242" width="6" height="1" fill="#008000"/>
<rect x="456" y="233" width="1" height="12" fill="#c8182c"/>
<rect x="453" y="241" width="6" height="1" fill="#c8182c"/>
<rect x="460.5" y="234.5" width="5" height="3" fill="#ff8098" fill-opacity="0.08" stroke="#c8182c"/>
<rect x="463" y="233" width="1" height="1" fill="#c8182c"/>
<rect x="463" y="238" width="1" height="6" fill="#c8182c"/>
<rect x="467.5" y="232.5" width="5" height="3" fill="#ff8098" fill-opacity="0.08" stroke="#c8182c"/>
<rect x="470" y="229" width="1" height="3" fill="#c8182c"/>
<rect x="470" y="236" width="1" height="2" fill="#c8182c"/>
<rect x="474.5" y="231.5" width="5" height="4" fill="#ff8098" fill-opacity="0.08" stroke="#c8182c"/>
<rect x="477" y="228" width="1" height="3" fill="#c8182c"/>
<rect x="477" y="236" width="1" height="6" fill="#c8182c"/>
<rect x="484" y="231" width="1" height="1" fill="#008000"/>
<rect x="484" y="241" width="1" height="1" fill="#008000"/>
<rect x="481" y="232" width="6" height="9" fill="#008000"/>
<rect x="491" y="233" width="1" height="14" fill="#c8182c"/>
<rect x="488" y="240" width="6" height="1" fill="#c8182c"/>
<rect x="495.5" y="235.5" width="5" height="4" fill="#ff8098" fill-opacity="0.08" stroke="#c8182c"/>
<rect x="498" y="231" width="1" height="4" fill="#c8182c"/>
<rect x="498" y="240" width="1" height="3" fill="#c8182c"/>
<rect x="505" y="229" width="1" height="9" fill="#008000"/>
<rect x="502" y="233" width="6" height="1" fill="#008000"/>
<rect x="509.5" y="232.5" width="5" height="3" fill="#ff8098" fill-opacity="0.08" stroke="#c8182c"/>
<rect x="512" y="230" width="1" height="2" fill="#c8182c"/>
<rect x="512" y="236" width="1" height="4" fill="#c8182c"/>
<rect x="519" y="229" width="1" height="3" fill="#008000"/>
<rect x="519" y="238" width="1" height="5" fill="#008000"/>
<rect x="516" y="232" width="6" height="6" fill="#008000"/>
<rect x="526" y="246" width="1" height="5" fill="#008000"/>
<rect x="523" y="241" width="6" height="5" fill="#008000"/>
<rect x="530.5" y="242.5" width="5" height="3" fill="#ff8098" fill-opacity="0.08" stroke="#c8182c"/>
<rect x="533" y="237" width="1" height="5" fill="#c8182c"/>
<rect x="540" y="239" width="1" height="1" fill="#008000"/>
<rect x="540" y="244" width="1" height="7" fill="#008000"/>
<rect x="537" y="240" width="6" height="4" fill="#008000"/>
<rect x="544.5" y="240.5" width="5" height="6" fill="#ff8098" fill-opacity="0.08" stroke="#c8182c"/>
<rect x="547" y="238" width="1" height="2" fill="#c8182c"/>
<rect x="547" y="247" width="1" height="3" fill="#c8182c"/>
<rect x="554" y="236" width="1" height="5" fill="#008000"/>
<rect x="551" y="241" width="6" height="3" fill="#008000"/>
<rect x="558.5" y="246.5" width="5" height="2" fill="#ff8098" fill-opacity="0.08" stroke="#c8182c"/>
<rect x="561" y="245" width="1" height="1" fill="#c8182c"/>
<rect x="561" y="249" width="1" height="7" fill="#c8182c"/>
<rect x="568" y="248" width="1" height="8" fill="#008000"/>
<rect x="565" y="250" width="6" height="2" fill="#008000"/>
<rect x="572.5" y="251.5" width="5" height="2" fill="#ff8098" fill-opacity="0.08" stroke="#c8182c"/>
<rect x="575" y="249" width="1" height="2" fill="#c8182c"/>
<rect x="575" y="254" width="1" height="3" fill="#c8182c"/>
<rect x="582" y="248" width="1" height="4" fill="#c8182c"/>
<rect x="579" y="250" width="6" height="2" fill="#c8182c"/>
<rect x="589" y="250" width="1" height="5" fill="#008000"/>
<rect x="586" y="250" width="6" height="2" fill="#008000"/>
<rect x="593.5" y="248.5" width="5" height="3" fill="#ff8098" fill-opacity="0.08" stroke="#c8182c"/>
<rect x="596" y="244" width="1" height="4" fill="#c8182c"/>
<rect x="603" y="221" width="1" height="2" fill="#008000"/>
<rect x="603" y="237" width="1" height="4" fill="#008000"/>
<rect x="600" y="223" width="6" height="14" fill="#008000"/>
<rect x="607.5" y="232.5" width="5" height="5" fill="#ff8098" fill-opacity="0.08" stroke="#c8182c"/>
<rect x="610" y="238" width="1" height="6" fill="#c8182c"/>
<rect x="614.5" y="230.5" width="5" height="3" fill="#ff8098" fill-opacity="0.08" stroke="#c8182c"/>
<rect x="617" y="226" width="1" height="4" fill="#c8182c"/>
<rect x="617" y="234" width="1" height="1" fill="#c8182c"/>
<rect x="624" y="229" width="1" height="8" fill="#c8182c"/>
<rect x="621" y="231" width="6" height="1" fill="#c8182c"/>
<rect x="628.5" y="229.5" width="5" height="2" fill="#ff8098" fill-opacity="0.08" stroke="#c8182c"/>
<rect x="631" y="226" width="1" height="3" fill="#c8182c"/>
<rect x="638" y="225" width="1" height="2" fill="#008000"/>
<rect x="638" y="234" width="1" height="3" fill="#008000"/>
<rect x="635" y="227" width="6" height="7" fill="#008000"/>
<rect x="645" y="233" width="1" height="8" fill="#008000"/>
<rect x="642" y="237" width="6" height="1" fill="#008000"/>
<rect x="649.5" y="233.5" width="5" height="3" fill="#ff8098" fill-opacity="0.08" stroke="#c8182c"/>
<rect x="652" y="232" width="1" height="1" fill="#c8182c"/>
<rect x="659" y="235" width="1" height="8" fill="#008000"/>
<rect x="656" y="236" width="6" height="2" fill="#008000"/>
<rect x="663.5" y="234.5" width="5" height="6" fill="#ff8098" fill-opacity="0.08" stroke="#c8182c"/>
<rect x="666" y="241" width="1" height="2" fill="#c8182c"/>
<rect x="673" y="232" width="1" height="4" fill="#008000"/>
<rect x="670" y="233" width="6" height="1" fill="#008000"/>
<rect x="677.5" y="230.5" width="5" height="5" fill="#ff8098" fill-opacity="0.08" stroke="#c8182c"/>
<rect x="680" y="236" width="1" height="1" fill="#c8182c"/>
<rect x="684.5" y="226.5" width="5" height="5" fill="#ff8098" fill-opacity="0.08" stroke="#c8182c"/>
<rect x="687" y="225" width="1" height="1" fill="#c8182c"/>
<rect x="687" y="232" width="1" height="2" fill="#c8182c"/>
<rect x="691.5" y="221.5" width="5" height="4" fill="#ff8098" fill-opacity="0.08" stroke="#c8182c"/>
<rect x="694" y="218" width="1" height="3" fill="#c8182c"/>
<rect x="694" y="226" width="1" height="3" fill="#c8182c"/>
<rect x="698.5" y="216.5" width="5" height="5" fill="#ff8098" fill-opacity="0.08" stroke="#c8182c"/>
<rect x="701" y="214" width="1" height="2" fill="#c8182c"/>
<rect x="701" y="222" width="1" height="2" fill="#c8182c"/>
<rect x="708" y="216" width="1" height="2" fill="#008000"/>
<rect x="708" y="230" width="1" height="15" fill="#008000"/>
<rect x="705" y="218" width="6" height="12" fill="#008000"/>
<rect x="712.5" y="227.5" width="5" height="5" fill="#ff8098" fill-opacity="0.08" stroke="#c8182c"/>
<rect x="715" y="226" width="1" height="1" fill="#c8182c"/>
<rect x="715" y="233" width="1" height="3" fill="#c8182c"/>
<rect x="722" y="219" width="1" height="12" fill="#c8182c"/>
<rect x="719" y="226" width="6" height="1" fill="#c8182c"/>
<rect x="729" y="232" width="1" height="6" fill="#008000"/>
<rect x="726" y="228" width="6" height="4" fill="#008000"/>
<rect x="736" y="234" width="1" height="15" fill="#008000"/>
<rect x="733" y="235" width="6" height="2" fill="#008000"/>
<rect x="740.5" y="230.5" width="5" height="8" fill="#ff8098" fill-opacity="0.08" stroke="#c8182c"/>
<rect x="743" y="229" width="1" height="1" fill="#c8182c"/>
<rect x="743" y="239" width="1" height="7" fill="#c8182c"/>
<rect x="747.5" y="218.5" width="5" height="11" fill="#ff8098" fill-opacity="0.08" stroke="#c8182c"/>
<rect x="750" y="217" width="1" height="1" fill="#c8182c"/>
<rect x="754.5" y="217.5" width="5" height="2" fill="#ff8098" fill-opacity="0.08" stroke="#c8182c"/>
<rect x="757" y="208" width="1" height="9" fill="#c8182c"/>
<rect x="757" y="220" width="1" height="2" fill="#c8182c"/>
<rect x="761.5" y="211.5" width="5" height="7" fill="#ff8098" fill-opacity="0.08" stroke="#c8182c"/>
<rect x="764" y="219" width="1" height="2" fill="#c8182c"/>
<rect x="768.5" y="209.5" width="5" height="5" fill="#ff8098" fill-opacity="0.08" stroke="#c8182c"/>
<rect x="771" y="206" width="1" height="3" fill="#c8182c"/>
<rect x="771" y="215" width="1" height="4" fill="#c8182c"/>
<rect x="775.5" y="202.5" width="5" height="5" fill="#ff8098" fill-opacity="0.08" stroke="#c8182c"/>
<rect x="778" y="201" width="1" height="1" fill="#c8182c"/>
<rect x="785" y="201" width="1" height="2" fill="#008000"/>
<rect x="785" y="211" width="1" height="5" fill="#008000"/>
<rect x="782" y="203" width="6" height="8" fill="#008000"/>
<rect x="792" y="214" width="1" height="3" fill="#008000"/>
<rect x="792" y="224" width="1" height="3" fill="#008000"/>
<rect x="789" y="217" width="6" height="7" fill="#008000"/>
<rect x="799" y="220" width="1" height="9" fill="#c8182c"/>
<rect x="796" y="225" width="6" height="2" fill="#c8182c"/>
<rect x="806" y="224" width="1" height="4" fill="#008000"/>
<rect x="806" y="233" width="1" height="5" fill="#008000"/>
<rect x="803" y="228" width="6" height="5" fill="#008000"/>
<rect x="810.5" y="228.5" width="5" height="13" fill="#ff8098" fill-opacity="0.08" stroke="#c8182c"/>
<rect x="813" y="242" width="1" height="12" fill="#c8182c"/>
<rect x="817.5" y="219.5" width="5" height="14" fill="#ff8098" fill-opacity="0.08" stroke="#c8182c"/>
<rect x="820" y="216" width="1" height="3" fill="#c8182c"/>
<rect x="820" y="234" width="1" height="1" fill="#c8182c"/>
<rect x="824.5" y="210.5" width="5" height="5" fill="#ff8098" fill-opacity="0.08" stroke="#c8182c"/>
<rect x="827" y="206" width="1" height="4" fill="#c8182c"/>
<rect x="827" y="216" width="1" height="6" fill="#c8182c"/>
<rect x="834" y="248" width="1" height="4" fill="#008000"/>
<rect x="831" y="212" width="6" height="36" fill="#008000"/>
<rect x="838.5" y="246.5" width="5" height="6" fill="#ff8098" fill-opacity="0.08" stroke="#c8182c"/>
<rect x="841" y="243" width="1" height="3" fill="#c8182c"/>
<rect x="841" y="253" width="1" height="5" fill="#c8182c"/>
<rect x="848" y="262" width="1" height="3" fill="#008000"/>
<rect x="845" y="249" width="6" height="13" fill="#008000"/>
<rect x="852.5" y="255.5" width="5" height="10" fill="#ff8098" fill-opacity="0.08" stroke="#c8182c"/>
<rect x="855" y="266" width="1" height="6" fill="#c8182c"/>
<rect x="862" y="251" width="1" height="18" fill="#c8182c"/>
<rect x="859" y="253" width="6" height="1" fill="#c8182c"/>
<rect x="869" y="253" width="1" height="5" fill="#008000"/>
<rect x="869" y="264" width="1" height="5" fill="#008000"/>
<rect x="866" y="258" width="6" height="6" fill="#008000"/>
<rect x="876" y="259" width="1" height="12" fill="#c8182c"/>
<rect x="873" y="263" width="6" height="1" fill="#c8182c"/>
<rect x="883" y="261" width="1" height="8" fill="#008000"/>
<rect x="880" y="265" width="6" height="1" fill="#008000"/>
<rect x="890" y="264" width="1" height="8" fill="#c8182c"/>
<rect x="887" y="269" width="6" height="1" fill="#c8182c"/>
<rect x="897" y="274" width="1" height="19" fill="#c8182c"/>
<rect x="894" y="274" width="6" height="1" fill="#c8182c"/>
<rect x="904" y="276" width="1" height="3" fill="#008000"/>
<rect x="904" y="285" width="1" height="6" fill="#008000"/>
<rect x="901" y="279" width="6" height="6" fill="#008000"/>
<rect x="908.5" y="276.5" width="5" height="11" fill="#ff8098" fill-opacity="0.08" stroke="#c8182c"/>
<rect x="911" y="272" width="1" height="4" fill="#c8182c"/>
<rect x="911" y="288" width="1" height="3" fill="#c8182c"/>
<rect x="915.5" y="261.5" width="5" height="13" fill="#ff8098" fill-opacity="0.08" stroke="#c8182c"/>
<rect x="918" y="260" width="1" height="1" fill="#c8182c"/>
<rect x="918" y="275" width="1" height="2" fill="#c8182c"/>
<rect x="922" y="261" width="6" height="20" fill="#008000"/>
<rect x="929.5" y="269.5" width="5" height="11" fill="#ff8098" fill-opacity="0.08" stroke="#c8182c"/>
<rect x="932" y="281" width="1" height="3" fill="#c8182c"/>
<rect x="939" y="267" width="1" height="3" fill="#008000"/>
<rect x="939" y="275" width="1" height="4" fill="#008000"/>
<rect x="936" y="270" width="6" height="5" fill="#008000"/>
<rect x="946" y="288" width="1" height="3" fill="#008000"/>
<rect x="943" y="277" width="6" height="11" fill="#008000"/>
<rect x="953" y="281" width="1" height="12" fill="#008000"/>
<rect x="950" y="286" width="6" height="1" fill="#008000"/>
<rect x="957.5" y="272.5" width="5" height="15" fill="#ff8098" fill-opacity="0.08" stroke="#c8182c"/>
<rect x="967" y="278" width="1" height="5" fill="#008000"/>
<rect x="964" y="272" width="6" height="6" fill="#008000"/>
<rect x="971.5" y="271.5" width="5" height="9" fill="#ff8098" fill-opacity="0.08" stroke="#c8182c"/>
<rect x="974" y="267" width="1" height="4" fill="#c8182c"/>
<rect x="974" y="281" width="1" height="6" fill="#c8182c"/>
<rect x="981" y="268" width="1" height="7" fill="#008000"/>
<rect x="978" y="272" width="6" height="1" fill="#008000"/>
<rect x="988" y="266" width="1" height="7" fill="#008000"/>
<rect x="988" y="281" width="1" height="5" fill="#008000"/>
<rect x="985" y="273" width="6" height="8" fill="#008000"/>
<rect x="992.5" y="268.5" width="5" height="13" fill="#ff8098" fill-opacity="0.08" stroke="#c8182c"/>
<rect x="995" y="267" width="1" height="1" fill="#c8182c"/>
<rect x="995" y="282" width="1" height="2" fill="#c8182c"/>
<rect x="1002" y="269" width="1" height="1" fill="#008000"/>
<rect x="1002" y="283" width="1" height="3" fill="#008000"/>
<rect x="999" y="270" width="6" height="13" fill="#008000"/>
<rect x="1006.5" y="273.5" width="5" height="11" fill="#ff8098" fill-opacity="0.08" stroke="#c8182c"/>
<rect x="1009" y="269" width="1" height="4" fill="#c8182c"/>
<rect x="1009" y="285" width="1" height="4" fill="#c8182c"/>
<rect x="1013.5" y="268.5" width="5" height="5" fill="#ff8098" fill-opacity="0.08" stroke="#c8182c"/>
<rect x="1016" y="267" width="1" height="1" fill="#c8182c"/>
<rect x="1016" y="274" width="1" height="1" fill="#c8182c"/>
<rect x="1020.5" y="248.5" width="5" height="16" fill="#ff8098" fill-opacity="0.08" stroke="#c8182c"/>
</g>
<g shape-rendering="crispEdges">
<rect x="68" y="535" width="6" height="30" fill="#008000"/>
<rect x="75.5" y="533.5" width="5" height="31" fill="#ff8098" fill-opacity="0.1" stroke="#c8182c"/>
<rect x="82" y="532" width="6" height="33" fill="#008000"/>
<rect x="89.5" y="533.5" width="5" height="31" fill="#ff8098" fill-opacity="0.1" stroke="#c8182c"/>
<rect x="96" y="520" width="6" height="45" fill="#008000"/>
<rect x="103.5" y="529.5" width="5" height="35" fill="#ff8098" fill-opacity="0.1" stroke="#c8182c"/>
<rect x="110.5" y="524.5" width="5" height="40" fill="#ff8098" fill-opacity="0.1" stroke="#c8182c"/>
<rect x="117.5" y="530.5" width="5" height="34" fill="#ff8098" fill-opacity="0.1" stroke="#c8182c"/>
<rect x="124" y="531" width="6" height="34" fill="#008000"/>
<rect x="131.5" y="535.5" width="5" height="29" fill="#ff8098" fill-opacity="0.1" stroke="#c8182c"/>
<rect x="138.5" y="537.5" width="5" height="27" fill="#ff8098" fill-opacity="0.1" stroke="#c8182c"/>
<rect x="145.5" y="532.5" width="5" height="32" fill="#ff8098" fill-opacity="0.1" stroke="#c8182c"/>
<rect x="152" y="532" width="6" height="33" fill="#008000"/>
<rect x="159.5" y="530.5" width="5" height="34" fill="#ff8098" fill-opacity="0.1" stroke="#c8182c"/>
<rect x="166.5" y="524.5" width="5" height="40" fill="#ff8098" fill-opacity="0.1" stroke="#c8182c"/>
<rect x="173.5" y="524.5" width="5" height="40" fill="#ff8098" fill-opacity="0.1" stroke="#c8182c"/>
<rect x="180.5" y="519.5" width="5" height="45" fill="#ff8098" fill-opacity="0.1" stroke="#c8182c"/>
<rect x="187.5" y="521.5" width="5" height="43" fill="#ff8098" fill-opacity="0.1" stroke="#c8182c"/>
<rect x="194" y="521" width="6" height="44" fill="#008000"/>
<rect x="201.5" y="519.5" width="5" height="45" fill="#ff8098" fill-opacity="0.1" stroke="#c8182c"/>
<rect x="208.5" y="528.5" width="5" height="36" fill="#ff8098" fill-opacity="0.1" stroke="#c8182c"/>
<rect x="215" y="503" width="6" height="62" fill="#008000"/>
<rect x="222.5" y="520.5" width="5" height="44" fill="#ff8098" fill-opacity="0.1" stroke="#c8182c"/>
<rect x="229.5" y="501.5" width="5" height="63" fill="#ff8098" fill-opacity="0.1" stroke="#c8182c"/>
<rect x="236.5" y="511.5" width="5" height="53" fill="#ff8098" fill-opacity="0.1" stroke="#c8182c"/>
<rect x="243.5" y="517.5" width="5" height="47" fill="#ff8098" fill-opacity="0.1" stroke="#c8182c"/>
<rect x="250.5" y="511.5" width="5" height="53" fill="#ff8098" fill-opacity="0.1" stroke="#c8182c"/>
<rect x="257" y="517" width="6" height="48" fill="#008000"/>
<rect x="264.5" y="515.5" width="5" height="49" fill="#ff8098" fill-opacity="0.1" stroke="#c8182c"/>
<rect x="271.5" y="512.5" width="5" height="52" fill="#ff8098" fill-opacity="0.1" stroke="#c8182c"/>
<rect x="278.5" y="522.5" width="5" height="42" fill="#ff8098" fill-opacity="0.1" stroke="#c8182c"/>
<rect x="285.5" y="508.5" width="5" height="56" fill="#ff8098" fill-opacity="0.1" stroke="#c8182c"/>
<rect x="292.5" y="510.5" width="5" height="54" fill="#ff8098" fill-opacity="0.1" stroke="#c8182c"/>
<rect x="299" y="503" width="6" height="62" fill="#008000"/>
<rect x="306" y="510" width="6" height="55" fill="#008000"/>
<rect x="313" y="501" width="6" height="64" fill="#008000"/>
<rect x="320.5" y="511.5" width="5" height="53" fill="#ff8098" fill-opacity="0.1" stroke="#c8182c"/>
<rect x="327.5" y="506.5" width="5" height="58" fill="#ff8098" fill-opacity="0.1" stroke="#c8182c"/>
<rect x="334" y="510" width="6" height="55" fill="#008000"/>
<rect x="341" y="509" width="6" height="56" fill="#008000"/>
<rect x="348" y="504" width="6" height="61" fill="#008000"/>
<rect x="355.5" y="521.5" width="5" height="43" fill="#ff8098" fill-opacity="0.1" stroke="#c8182c"/>
<rect x="362.5" y="522.5" width="5" height="42" fill="#ff8098" fill-opacity="0.1" stroke="#c8182c"/>
<rect x="369" y="524" width="6" height="41" fill="#008000"/>
<rect x="376.5" y="517.5" width="5" height="47" fill="#ff8098" fill-opacity="0.1" stroke="#c8182c"/>
<rect x="383.5" y="520.5" width="5" height="44" fill="#ff8098" fill-opacity="0.1" stroke="#c8182c"/>
<rect x="390.5" y="522.5" width="5" height="42" fill="#ff8098" fill-opacity="0.1" stroke="#c8182c"/>
<rect x="397.5" y="521.5" width="5" height="43" fill="#ff8098" fill-opacity="0.1" stroke="#c8182c"/>
<rect x="404.5" y="523.5" width="5" height="41" fill="#ff8098" fill-opacity="0.1" stroke="#c8182c"/>
<rect x="411" y="527" width="6" height="38" fill="#008000"/>
<rect x="418.5" y="517.5" width="5" height="47" fill="#ff8098" fill-opacity="0.1" stroke="#c8182c"/>
<rect x="425.5" y="505.5" width="5" height="59" fill="#ff8098" fill-opacity="0.1" stroke="#c8182c"/>
<rect x="432.5" y="514.5" width="5" height="50" fill="#ff8098" fill-opacity="0.1" stroke="#c8182c"/>
<rect x="439.5" y="507.5" width="5" height="57" fill="#ff8098" fill-opacity="0.1" stroke="#c8182c"/>
<rect x="446" y="510" width="6" height="55" fill="#008000"/>
<rect x="453.5" y="499.5" width="5" height="65" fill="#ff8098" fill-opacity="0.1" stroke="#c8182c"/>
<rect x="460.5" y="503.5" width="5" height="61" fill="#ff8098" fill-opacity="0.1" stroke="#c8182c"/>
<rect x="467.5" y="514.5" width="5" height="50" fill="#ff8098" fill-opacity="0.1" stroke="#c8182c"/>
<rect x="474.5" y="511.5" width="5" height="53" fill="#ff8098" fill-opacity="0.1" stroke="#c8182c"/>
<rect x="481" y="513" width="6" height="52" fill="#008000"/>
<rect x="488.5" y="519.5" width="5" height="45" fill="#ff8098" fill-opacity="0.1" stroke="#c8182c"/>
<rect x="495.5" y="514.5" width="5" height="50" fill="#ff8098" fill-opacity="0.1" stroke="#c8182c"/>
<rect x="502" y="501" width="6" height="64" fill="#008000"/>
<rect x="509.5" y="520.5" width="5" height="44" fill="#ff8098" fill-opacity="0.1" stroke="#c8182c"/>
<rect x="516" y="513" width="6" height="52" fill="#008000"/>
<rect x="523" y="514" width="6" height="51" fill="#008000"/>
<rect x="530.5" y="521.5" width="5" height="43" fill="#ff8098" fill-opacity="0.1" stroke="#c8182c"/>
<rect x="537" y="520" width="6" height="45" fill="#008000"/>
<rect x="544.5" y="520.5" width="5" height="44" fill="#ff8098" fill-opacity="0.1" stroke="#c8182c"/>
<rect x="551" y="519" width="6" height="46" fill="#008000"/>
<rect x="558.5" y="523.5" width="5" height="41" fill="#ff8098" fill-opacity="0.1" stroke="#c8182c"/>
<rect x="565" y="525" width="6" height="40" fill="#008000"/>
<rect x="572.5" y="534.5" width="5" height="30" fill="#ff8098" fill-opacity="0.1" stroke="#c8182c"/>
<rect x="579.5" y="532.5" width="5" height="32" fill="#ff8098" fill-opacity="0.1" stroke="#c8182c"/>
<rect x="586" y="530" width="6" height="35" fill="#008000"/>
<rect x="593.5" y="531.5" width="5" height="33" fill="#ff8098" fill-opacity="0.1" stroke="#c8182c"/>
<rect x="600" y="520" width="6" height="45" fill="#008000"/>
<rect x="607.5" y="523.5" width="5" height="41" fill="#ff8098" fill-opacity="0.1" stroke="#c8182c"/>
<rect x="614.5" y="523.5" width="5" height="41" fill="#ff8098" fill-opacity="0.1" stroke="#c8182c"/>
<rect x="621.5" y="527.5" width="5" height="37" fill="#ff8098" fill-opacity="0.1" stroke="#c8182c"/>
<rect x="628.5" y="532.5" width="5" height="32" fill="#ff8098" fill-opacity="0.1" stroke="#c8182c"/>
<rect x="635" y="524" width="6" height="41" fill="#008000"/>
<rect x="642" y="536" width="6" height="29" fill="#008000"/>
<rect x="649.5" y="528.5" width="5" height="36" fill="#ff8098" fill-opacity="0.1" stroke="#c8182c"/>
<rect x="656" y="528" width="6" height="37" fill="#008000"/>
<rect x="663.5" y="535.5" width="5" height="29" fill="#ff8098" fill-opacity="0.1" stroke="#c8182c"/>
<rect x="670" y="534" width="6" height="31" fill="#008000"/>
<rect x="677.5" y="532.5" width="5" height="32" fill="#ff8098" fill-opacity="0.1" stroke="#c8182c"/>
<rect x="684.5" y="536.5" width="5" height="28" fill="#ff8098" fill-opacity="0.1" stroke="#c8182c"/>
<rect x="691.5" y="522.5" width="5" height="42" fill="#ff8098" fill-opacity="0.1" stroke="#c8182c"/>
<rect x="698.5" y="525.5" width="5" height="39" fill="#ff8098" fill-opacity="0.1" stroke="#c8182c"/>
<rect x="705" y="516" width="6" height="49" fill="#008000"/>
<rect x="712.5" y="529.5" width="5" height="35" fill="#ff8098" fill-opacity="0.1" stroke="#c8182c"/>
<rect x="719.5" y="523.5" width="5" height="41" fill="#ff8098" fill-opacity="0.1" stroke="#c8182c"/>
<rect x="726" y="526" width="6" height="39" fill="#008000"/>
<rect x="733" y="525" width="6" height="40" fill="#008000"/>
<rect x="740.5" y="529.5" width="5" height="35" fill="#ff8098" fill-opacity="0.1" stroke="#c8182c"/>
<rect x="747.5" y="520.5" width="5" height="44" fill="#ff8098" fill-opacity="0.1" stroke="#c8182c"/>
<rect x="754.5" y="522.5" width="5" height="42" fill="#ff8098" fill-opacity="0.1" stroke="#c8182c"/>
<rect x="761.5" y="528.5" width="5" height="36" fill="#ff8098" fill-opacity="0.1" stroke="#c8182c"/>
<rect x="768.5" y="521.5" width="5" height="43" fill="#ff8098" fill-opacity="0.1" stroke="#c8182c"/>
<rect x="775.5" y="517.5" width="5" height="47" fill="#ff8098" fill-opacity="0.1" stroke="#c8182c"/>
<rect x="782" y="519" width="6" height="46" fill="#008000"/>
<rect x="789" y="526" width="6" height="39" fill="#008000"/>
<rect x="796.5" y="528.5" width="5" height="36" fill="#ff8098" fill-opacity="0.1" stroke="#c8182c"/>
<rect x="803" y="507" width="6" height="58" fill="#008000"/>
<rect x="810.5" y="524.5" width="5" height="40" fill="#ff8098" fill-opacity="0.1" stroke="#c8182c"/>
<rect x="817.5" y="519.5" width="5" height="45" fill="#ff8098" fill-opacity="0.1" stroke="#c8182c"/>
<rect x="824.5" y="515.5" width="5" height="49" fill="#ff8098" fill-opacity="0.1" stroke="#c8182c"/>
<rect x="831" y="515" width="6" height="50" fill="#008000"/>
<rect x="838.5" y="528.5" width="5" height="36" fill="#ff8098" fill-opacity="0.1" stroke="#c8182c"/>
<rect x="845" y="526" width="6" height="39" fill="#008000"/>
<rect x="852.5" y="533.5" width="5" height="31" fill="#ff8098" fill-opacity="0.1" stroke="#c8182c"/>
<rect x="859.5" y="522.5" width="5" height="42" fill="#ff8098" fill-opacity="0.1" stroke="#c8182c"/>
<rect x="866" y="528" width="6" height="37" fill="#008000"/>
<rect x="873.5" y="532.5" width="5" height="32" fill="#ff8098" fill-opacity="0.1" stroke="#c8182c"/>
<rect x="880" y="530" width="6" height="35" fill="#008000"/>
<rect x="887.5" y="516.5" width="5" height="48" fill="#ff8098" fill-opacity="0.1" stroke="#c8182c"/>
<rect x="894.5" y="530.5" width="5" height="34" fill="#ff8098" fill-opacity="0.1" stroke="#c8182c"/>
<rect x="901" y="534" width="6" height="31" fill="#008000"/>
<rect x="908.5" y="534.5" width="5" height="30" fill="#ff8098" fill-opacity="0.1" stroke="#c8182c"/>
<rect x="915.5" y="534.5" width="5" height="30" fill="#ff8098" fill-opacity="0.1" stroke="#c8182c"/>
<rect x="922" y="536" width="6" height="29" fill="#008000"/>
<rect x="929.5" y="539.5" width="5" height="25" fill="#ff8098" fill-opacity="0.1" stroke="#c8182c"/>
<rect x="936" y="537" width="6" height="28" fill="#008000"/>
<rect x="943" y="534" width="6" height="31" fill="#008000"/>
<rect x="950" y="537" width="6" height="28" fill="#008000"/>
<rect x="957.5" y="538.5" width="5" height="26" fill="#ff8098" fill-opacity="0.1" stroke="#c8182c"/>
<rect x="964" y="533" width="6" height="32" fill="#008000"/>
<rect x="971.5" y="532.5" width="5" height="32" fill="#ff8098" fill-opacity="0.1" stroke="#c8182c"/>
<rect x="978" y="536" width="6" height="29" fill="#008000"/>
<rect x="985" y="531" width="6" height="34" fill="#008000"/>
<rect x="992.5" y="532.5" width="5" height="32" fill="#ff8098" fill-opacity="0.1" stroke="#c8182c"/>
<rect x="999" y="527" width="6" height="38" fill="#008000"/>
<rect x="1006.5" y="524.5" width="5" height="40" fill="#ff8098" fill-opacity="0.1" stroke="#c8182c"/>
<rect x="1013.5" y="532.5" width="5" height="32" fill="#ff8098" fill-opacity="0.1" stroke="#c8182c"/>
<rect x="1020.5" y="518.5" width="5" height="46" fill="#ff8098" fill-opacity="0.1" stroke="#c8182c"/>
</g>
<rect x="1030" y="565" width="203" height="1" fill="#909090"/>
<polygon points="635,503 642,503 638.5,499.5" fill="#000"/>
<line x1="1029.5" y1="120" x2="1029.5" y2="566" stroke="#000" stroke-dasharray="3,3" shape-rendering="crispEdges"/>
</svg>
</body></html>
